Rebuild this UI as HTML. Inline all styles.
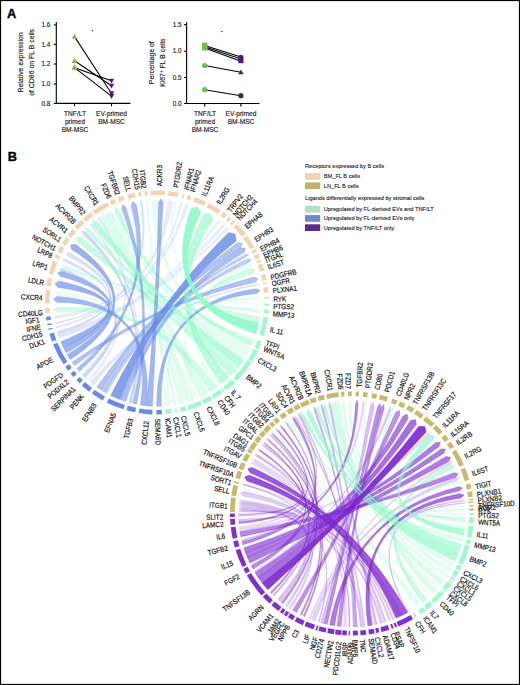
<!DOCTYPE html>
<html><head><meta charset="utf-8"><style>
html,body{margin:0;padding:0;background:#fff;}
body{width:520px;height:685px;overflow:hidden;font-family:"Liberation Sans", sans-serif;}
svg{display:block;}
</style></head><body>
<svg width="520" height="685" viewBox="0 0 520 685" font-family='"Liberation Sans", sans-serif'>
<style>.pa text{stroke:#222;stroke-width:0.15;} .lg text{stroke:#222;stroke-width:0.12;}</style>
<rect x="0" y="0" width="520" height="685" fill="#fff"/>
<text x="7.1" y="17.8" font-size="12.8" font-weight="bold" fill="#000" stroke="#000" stroke-width="0.35">A</text>
<text x="7.7" y="160.7" font-size="12.8" font-weight="bold" fill="#000" stroke="#000" stroke-width="0.35">B</text>
<g class="pa"><g stroke="#000" stroke-width="1.1" fill="none">
<path d="M56.3,22 V103.4 H130.4"/>
<path d="M53.8,24.9 H56.3"/>
<path d="M53.8,44.4 H56.3"/>
<path d="M53.8,64.0 H56.3"/>
<path d="M53.8,84.0 H56.3"/>
<path d="M53.8,103.4 H56.3"/>
<path d="M74.5,103.4 V106.2"/>
<path d="M111.5,103.4 V106.2"/>
<path d="M74.5,36.6 L111.5,93.5" stroke-width="1.05"/>
<path d="M74.5,60.8 L111.5,85.8" stroke-width="1.05"/>
<path d="M74.5,67.7 L111.5,80.8" stroke-width="1.05"/>
<path d="M74.5,67.7 L111.5,96.2" stroke-width="1.05"/>
</g>
<text x="50.3" y="27.099999999999998" font-size="6.4" text-anchor="end" fill="#222" >1.6</text>
<text x="50.3" y="46.6" font-size="6.4" text-anchor="end" fill="#222" >1.4</text>
<text x="50.3" y="66.2" font-size="6.4" text-anchor="end" fill="#222" >1.2</text>
<text x="50.3" y="86.2" font-size="6.4" text-anchor="end" fill="#222" >1.0</text>
<text x="50.3" y="105.60000000000001" font-size="6.4" text-anchor="end" fill="#222" >0.8</text>
<text transform="translate(23.2,62.4) rotate(-90)" font-size="6.9" text-anchor="middle" fill="#222">Relative expression</text>
<text transform="translate(34.4,62.4) rotate(-90)" font-size="6.9" text-anchor="middle" fill="#222">of CD86 on FL B cells</text>
<path d="M74.5,33.9 L77.2,38.760000000000005 L71.8,38.760000000000005 Z" fill="#6DBE45"/>
<path d="M74.5,58.099999999999994 L77.2,62.959999999999994 L71.8,62.959999999999994 Z" fill="#6DBE45"/>
<path d="M74.5,65.0 L77.2,69.86 L71.8,69.86 Z" fill="#6DBE45"/>
<path d="M74.5,64.2 L77.2,69.06 L71.8,69.06 Z" fill="#6DBE45"/>
<path d="M111.5,83.5 L114.2,78.64 L108.8,78.64 Z" fill="#4A1A7C"/>
<path d="M111.5,88.5 L114.2,83.64 L108.8,83.64 Z" fill="#4A1A7C"/>
<path d="M111.5,96.2 L114.2,91.34 L108.8,91.34 Z" fill="#4A1A7C"/>
<path d="M111.5,98.9 L114.2,94.04 L108.8,94.04 Z" fill="#4A1A7C"/>
<circle cx="92.4" cy="30.5" r="0.7" fill="#222"/>
<text x="75" y="116.2" font-size="6.6" text-anchor="middle" fill="#222" >TNF/LT</text>
<text x="75" y="124.3" font-size="6.6" text-anchor="middle" fill="#222" >primed</text>
<text x="75" y="132.4" font-size="6.6" text-anchor="middle" fill="#222" >BM-MSC</text>
<text x="111.5" y="116.2" font-size="6.6" text-anchor="middle" fill="#222" >EV-primed</text>
<text x="111.5" y="124.3" font-size="6.6" text-anchor="middle" fill="#222" >BM-MSC</text>
<g stroke="#000" stroke-width="1.1" fill="none">
<path d="M186.6,22.3 V103.5 H259.5"/>
<path d="M184.1,24.6 H186.6"/>
<path d="M184.1,51.2 H186.6"/>
<path d="M184.1,77.5 H186.6"/>
<path d="M184.1,103.5 H186.6"/>
<path d="M204.7,103.5 V106.4"/>
<path d="M240.9,103.5 V106.4"/>
<path d="M204.7,45.6 L240.9,56.9" stroke-width="1.05"/>
<path d="M204.7,46.8 L240.9,59.1" stroke-width="1.05"/>
<path d="M204.7,48.0 L240.9,61.3" stroke-width="1.05"/>
<path d="M204.7,65.5 L240.9,72.2" stroke-width="1.05"/>
<path d="M204.7,89.7 L240.9,95.7" stroke-width="1.05"/>
</g>
<text x="181.6" y="26.8" font-size="6.4" text-anchor="end" fill="#222" >1.5</text>
<text x="181.6" y="53.400000000000006" font-size="6.4" text-anchor="end" fill="#222" >1.0</text>
<text x="181.6" y="79.7" font-size="6.4" text-anchor="end" fill="#222" >0.5</text>
<text x="181.6" y="105.7" font-size="6.4" text-anchor="end" fill="#222" >0.0</text>
<text transform="translate(153.6,62.7) rotate(-90)" font-size="6.9" text-anchor="middle" fill="#222">Percentage of</text>
<text transform="translate(164.8,62.7) rotate(-90)" font-size="6.9" text-anchor="middle" fill="#222">Ki67<tspan font-size="4.5" dy="-2.2">+</tspan><tspan dy="2.2"> FL B cells</tspan></text>
<rect x="202.1" y="42.699999999999996" width="5.2" height="5.2" fill="#6DBE45"/>
<rect x="202.1" y="44.0" width="5.2" height="5.2" fill="#6DBE45"/>
<rect x="202.1" y="45.3" width="5.2" height="5.2" fill="#6DBE45"/>
<circle cx="204.7" cy="65.5" r="2.6" fill="#6DBE45"/>
<circle cx="204.7" cy="89.7" r="2.6" fill="#6DBE45"/>
<circle cx="240.9" cy="57.4" r="2.6" fill="#4A1A7C"/>
<rect x="238.3" y="58.0" width="5.2" height="5.2" fill="#4A1A7C"/>
<path d="M240.9,69.5 L243.6,74.36 L238.20000000000002,74.36 Z" fill="#4A1A7C"/>
<circle cx="240.9" cy="95.7" r="2.6" fill="#4A1A7C"/>
<circle cx="221.9" cy="31.5" r="0.7" fill="#222"/>
<text x="205" y="116.2" font-size="6.6" text-anchor="middle" fill="#222" >TNF/LT</text>
<text x="205" y="124.3" font-size="6.6" text-anchor="middle" fill="#222" >primed</text>
<text x="205" y="132.4" font-size="6.6" text-anchor="middle" fill="#222" >BM-MSC</text>
<text x="241" y="116.2" font-size="6.6" text-anchor="middle" fill="#222" >EV-primed</text>
<text x="241" y="124.3" font-size="6.6" text-anchor="middle" fill="#222" >BM-MSC</text></g>
<g class="lg"><text x="305" y="168.2" font-size="5.65" fill="#222">Receptors expressed by B cells</text>
<rect x="305" y="173.1" width="15.2" height="6.7" fill="#F2D5B5"/>
<text x="323.8" y="178.4" font-size="5.65" fill="#222">BM_FL B cells</text>
<rect x="305" y="182.4" width="15.2" height="6.7" fill="#BFB36C"/>
<text x="323.8" y="187.70000000000002" font-size="5.65" fill="#222">LN_FL B cells</text>
<text x="305" y="200.4" font-size="5.65" fill="#222">Ligands differentially expressed by stromal cells</text>
<rect x="305" y="205.8" width="15.2" height="6.7" fill="#B3DFC6"/>
<text x="323.8" y="211.10000000000002" font-size="5.65" fill="#222">Upregulated by FL-derived EVs and TNF/LT</text>
<rect x="305" y="215.1" width="15.2" height="6.7" fill="#6F89CD"/>
<text x="323.8" y="220.4" font-size="5.65" fill="#222">Upregulated by FL-derived EVs only</text>
<rect x="305" y="224.3" width="15.2" height="6.7" fill="#5B2B8C"/>
<text x="323.8" y="229.60000000000002" font-size="5.65" fill="#222">Upregulated by TNF/LT only</text></g>
<g><path d="M217.87,386.58 A103.8,103.8 0 0 1 216.39,387.63 Q157,302.5 250.17,265.36 L253.53,264.34 L250.38,265.89 Q157,302.5 217.87,386.58 Z" fill="#8CFAC6" fill-opacity="0.12" stroke="#8CFAC6" stroke-opacity="0.14" stroke-width="0.45"/>
<path d="M90.46,382.17 A103.8,103.8 0 0 1 87.72,379.80 Q157,302.5 59.04,280.96 L55.68,279.95 L59.15,280.45 Q157,302.5 90.46,382.17 Z" fill="#6688E6" fill-opacity="0.12" stroke="#6688E6" stroke-opacity="0.14" stroke-width="0.45"/>
<path d="M58.63,335.64 A103.8,103.8 0 0 1 58.18,334.27 Q157,302.5 216.87,222.03 L220.05,220.04 L218.96,223.62 Q157,302.5 58.63,335.64 Z" fill="#6688E6" fill-opacity="0.12" stroke="#6688E6" stroke-opacity="0.14" stroke-width="0.45"/>
<path d="M55.28,323.19 A103.8,103.8 0 0 1 55.14,322.50 Q157,302.5 180.10,204.90 L181.76,201.70 L181.75,205.30 Q157,302.5 55.28,323.19 Z" fill="#6688E6" fill-opacity="0.13" stroke="#6688E6" stroke-opacity="0.15" stroke-width="0.45"/>
<path d="M55.43,323.89 A103.8,103.8 0 0 1 55.29,323.20 Q157,302.5 184.53,206.05 L187.17,203.18 L187.78,207.04 Q157,302.5 55.43,323.89 Z" fill="#6688E6" fill-opacity="0.13" stroke="#6688E6" stroke-opacity="0.15" stroke-width="0.45"/>
<path d="M260.79,303.59 A103.8,103.8 0 0 1 260.76,305.40 Q157,302.5 172.46,203.40 L174.79,200.24 L175.91,204.00 Q157,302.5 260.79,303.59 Z" fill="#8CFAC6" fill-opacity="0.15" stroke="#8CFAC6" stroke-opacity="0.17" stroke-width="0.45"/>
<path d="M244.56,358.24 A103.8,103.8 0 0 1 243.58,359.76 Q157,302.5 125.78,207.18 L125.04,203.74 L126.45,206.97 Q157,302.5 244.56,358.24 Z" fill="#8CFAC6" fill-opacity="0.15" stroke="#8CFAC6" stroke-opacity="0.17" stroke-width="0.45"/>
<path d="M208.35,392.71 A103.8,103.8 0 0 1 207.10,393.41 Q157,302.5 114.65,211.58 L113.33,208.33 L114.96,211.44 Q157,302.5 208.35,392.71 Z" fill="#8CFAC6" fill-opacity="0.15" stroke="#8CFAC6" stroke-opacity="0.17" stroke-width="0.45"/>
<path d="M198.61,397.59 A103.8,103.8 0 0 1 193.92,399.51 Q157,302.5 251.03,267.60 L254.41,266.64 L251.21,268.09 Q157,302.5 198.61,397.59 Z" fill="#8CFAC6" fill-opacity="0.15" stroke="#8CFAC6" stroke-opacity="0.17" stroke-width="0.45"/>
<path d="M59.67,338.58 A103.8,103.8 0 0 1 59.18,337.22 Q157,302.5 225.21,228.97 L228.39,227.14 L226.74,230.41 Q157,302.5 59.67,338.58 Z" fill="#6688E6" fill-opacity="0.15" stroke="#6688E6" stroke-opacity="0.17" stroke-width="0.45"/>
<path d="M59.14,337.11 A103.8,103.8 0 0 1 58.67,335.75 Q157,302.5 221.74,225.89 L224.83,223.92 L223.33,227.26 Q157,302.5 59.14,337.11 Z" fill="#6688E6" fill-opacity="0.15" stroke="#6688E6" stroke-opacity="0.17" stroke-width="0.45"/>
<path d="M54.51,318.92 A103.8,103.8 0 0 1 54.09,316.05 Q157,302.5 167.72,202.77 L170.34,199.56 L172.06,203.34 Q157,302.5 54.51,318.92 Z" fill="#6688E6" fill-opacity="0.15" stroke="#6688E6" stroke-opacity="0.17" stroke-width="0.45"/>
<path d="M219.97,385.02 A103.8,103.8 0 0 1 218.96,385.78 Q157,302.5 56.96,295.27 L53.62,293.21 L57.27,291.78 Q157,302.5 219.97,385.02 Z" fill="#8CFAC6" fill-opacity="0.18" stroke="#8CFAC6" stroke-opacity="0.21" stroke-width="0.45"/>
<path d="M132.94,403.47 A103.8,103.8 0 0 1 131.19,403.04 Q157,302.5 91.15,226.84 L89.54,223.61 L92.48,225.70 Q157,302.5 132.94,403.47 Z" fill="#6688E6" fill-opacity="0.18" stroke="#6688E6" stroke-opacity="0.21" stroke-width="0.45"/>
<path d="M254.28,338.70 A103.8,103.8 0 0 1 253.91,339.68 Q157,302.5 62.56,268.72 L59.45,267.03 L62.92,267.74 Q157,302.5 254.28,338.70 Z" fill="#8CFAC6" fill-opacity="0.2" stroke="#8CFAC6" stroke-opacity="0.23" stroke-width="0.45"/>
<path d="M170.49,405.42 A103.8,103.8 0 0 1 167.97,405.72 Q157,302.5 249.74,264.29 L253.20,263.50 L250.16,265.34 Q157,302.5 170.49,405.42 Z" fill="#8CFAC6" fill-opacity="0.2" stroke="#8CFAC6" stroke-opacity="0.23" stroke-width="0.45"/>
<path d="M167.73,405.74 A103.8,103.8 0 0 1 165.20,405.98 Q157,302.5 145.91,202.82 L146.60,199.22 L148.00,202.60 Q157,302.5 167.73,405.74 Z" fill="#8CFAC6" fill-opacity="0.2" stroke="#8CFAC6" stroke-opacity="0.23" stroke-width="0.45"/>
<path d="M93.76,384.81 A103.8,103.8 0 0 1 90.93,382.56 Q157,302.5 255.66,284.41 L259.19,284.30 L255.83,285.41 Q157,302.5 93.76,384.81 Z" fill="#6688E6" fill-opacity="0.2" stroke="#6688E6" stroke-opacity="0.23" stroke-width="0.45"/>
<path d="M56.37,327.95 A103.8,103.8 0 0 1 56.11,326.92 Q157,302.5 140.36,203.59 L140.85,199.96 L142.43,203.26 Q157,302.5 56.37,327.95 Z" fill="#6688E6" fill-opacity="0.2" stroke="#6688E6" stroke-opacity="0.23" stroke-width="0.45"/>
<path d="M250.58,347.40 A103.8,103.8 0 0 1 248.11,352.24 Q157,302.5 152.28,202.31 L154.83,198.72 L157.53,202.20 Q157,302.5 250.58,347.40 Z" fill="#8CFAC6" fill-opacity="0.22" stroke="#8CFAC6" stroke-opacity="0.25" stroke-width="0.45"/>
<path d="M85.26,377.52 A103.8,103.8 0 0 1 84.88,377.15 Q157,302.5 99.45,220.35 L97.81,217.23 L100.17,219.85 Q157,302.5 85.26,377.52 Z" fill="#6688E6" fill-opacity="0.22" stroke="#6688E6" stroke-opacity="0.25" stroke-width="0.45"/>
<path d="M253.67,340.32 A103.8,103.8 0 0 1 252.99,342.00 Q157,302.5 257.18,297.62 L260.71,298.15 L257.24,298.98 Q157,302.5 253.67,340.32 Z" fill="#8CFAC6" fill-opacity="0.25" stroke="#8CFAC6" stroke-opacity="0.29" stroke-width="0.45"/>
<path d="M67.23,354.62 A103.8,103.8 0 0 1 66.16,352.73 Q157,302.5 65.34,261.78 L62.66,259.21 L66.36,259.56 Q157,302.5 67.23,354.62 Z" fill="#6688E6" fill-opacity="0.25" stroke="#6688E6" stroke-opacity="0.29" stroke-width="0.45"/>
<path d="M58.15,334.16 A103.8,103.8 0 0 1 57.35,331.56 Q157,302.5 68.07,256.11 L65.91,252.73 L69.92,252.73 Q157,302.5 58.15,334.16 Z" fill="#6688E6" fill-opacity="0.25" stroke="#6688E6" stroke-opacity="0.29" stroke-width="0.45"/>
<path d="M247.99,352.45 A103.8,103.8 0 0 1 245.25,357.15 Q157,302.5 110.71,213.52 L109.90,210.00 L112.27,212.73 Q157,302.5 247.99,352.45 Z" fill="#8CFAC6" fill-opacity="0.26" stroke="#8CFAC6" stroke-opacity="0.30" stroke-width="0.45"/>
<path d="M184.22,402.67 A103.8,103.8 0 0 1 179.29,403.88 Q157,302.5 101.58,218.90 L100.55,215.39 L103.34,217.76 Q157,302.5 184.22,402.67 Z" fill="#8CFAC6" fill-opacity="0.26" stroke="#8CFAC6" stroke-opacity="0.30" stroke-width="0.45"/>
<path d="M193.63,399.62 A103.8,103.8 0 0 1 186.77,401.94 Q157,302.5 103.47,217.68 L103.14,213.77 L106.46,215.86 Q157,302.5 193.63,399.62 Z" fill="#8CFAC6" fill-opacity="0.28" stroke="#8CFAC6" stroke-opacity="0.32" stroke-width="0.45"/>
<path d="M260.55,309.65 A103.8,103.8 0 0 1 260.33,312.36 Q157,302.5 63.02,267.47 L60.15,265.15 L63.83,265.35 Q157,302.5 260.55,309.65 Z" fill="#8CFAC6" fill-opacity="0.3" stroke="#8CFAC6" stroke-opacity="0.34" stroke-width="0.45"/>
<path d="M175.65,404.61 A103.8,103.8 0 0 1 174.40,404.83 Q157,302.5 100.29,219.77 L98.91,216.47 L101.45,218.99 Q157,302.5 175.65,404.61 Z" fill="#8CFAC6" fill-opacity="0.3" stroke="#8CFAC6" stroke-opacity="0.34" stroke-width="0.45"/>
<path d="M131.01,402.99 A103.8,103.8 0 0 1 128.91,402.43 Q157,302.5 83.25,234.52 L81.91,230.83 L85.67,231.99 Q157,302.5 131.01,402.99 Z" fill="#6688E6" fill-opacity="0.3" stroke="#6688E6" stroke-opacity="0.34" stroke-width="0.45"/>
<path d="M84.85,377.12 A103.8,103.8 0 0 1 82.36,374.64 Q157,302.5 61.78,270.97 L58.81,268.84 L62.46,268.99 Q157,302.5 84.85,377.12 Z" fill="#6688E6" fill-opacity="0.3" stroke="#6688E6" stroke-opacity="0.34" stroke-width="0.45"/>
<path d="M207.02,393.45 A103.8,103.8 0 0 1 200.29,396.84 Q157,302.5 106.59,215.79 L106.88,211.60 L110.58,213.59 Q157,302.5 207.02,393.45 Z" fill="#8CFAC6" fill-opacity="0.32" stroke="#8CFAC6" stroke-opacity="0.37" stroke-width="0.45"/>
<path d="M259.86,316.47 A103.8,103.8 0 0 1 258.78,322.90 Q157,302.5 251.24,268.15 L255.53,269.85 L253.10,273.78 Q157,302.5 259.86,316.47 Z" fill="#8CFAC6" fill-opacity="0.4" stroke="#8CFAC6" stroke-opacity="0.46" stroke-width="0.45"/>
<path d="M103.54,391.47 A103.8,103.8 0 0 1 101.38,390.14 Q157,302.5 245.02,254.41 L248.78,254.01 L246.33,256.89 Q157,302.5 103.54,391.47 Z" fill="#6688E6" fill-opacity="0.4" stroke="#6688E6" stroke-opacity="0.46" stroke-width="0.45"/>
<path d="M216.24,387.74 A103.8,103.8 0 0 1 209.84,391.85 Q157,302.5 57.16,312.05 L53.48,310.10 L56.83,307.64 Q157,302.5 216.24,387.74 Z" fill="#8CFAC6" fill-opacity="0.42" stroke="#8CFAC6" stroke-opacity="0.48" stroke-width="0.45"/>
<path d="M106.52,393.20 A103.8,103.8 0 0 1 103.69,391.57 Q157,302.5 247.34,258.93 L251.38,259.29 L249.02,262.59 Q157,302.5 106.52,393.20 Z" fill="#6688E6" fill-opacity="0.42" stroke="#6688E6" stroke-opacity="0.48" stroke-width="0.45"/>
<path d="M238.97,366.18 A103.8,103.8 0 0 1 235.29,370.65 Q157,302.5 85.99,231.66 L85.07,227.66 L89.02,228.75 Q157,302.5 238.97,366.18 Z" fill="#8CFAC6" fill-opacity="0.45" stroke="#8CFAC6" stroke-opacity="0.52" stroke-width="0.45"/>
<path d="M252.81,342.45 A103.8,103.8 0 0 1 251.35,345.76 Q157,302.5 115.00,211.42 L115.46,207.37 L118.74,209.79 Q157,302.5 252.81,342.45 Z" fill="#8CFAC6" fill-opacity="0.5" stroke="#8CFAC6" stroke-opacity="0.57" stroke-width="0.45"/>
<path d="M235.20,370.76 A103.8,103.8 0 0 1 231.01,375.28 Q157,302.5 77.21,241.72 L76.33,237.18 L80.96,237.09 Q157,302.5 235.20,370.76 Z" fill="#8CFAC6" fill-opacity="0.5" stroke="#8CFAC6" stroke-opacity="0.57" stroke-width="0.45"/>
<path d="M101.23,390.04 A103.8,103.8 0 0 1 96.72,387.01 Q157,302.5 237.49,242.65 L242.10,243.06 L240.90,247.53 Q157,302.5 101.23,390.04 Z" fill="#6688E6" fill-opacity="0.5" stroke="#6688E6" stroke-opacity="0.57" stroke-width="0.45"/>
<path d="M74.54,365.55 A103.8,103.8 0 0 1 72.08,362.19 Q157,302.5 254.02,277.05 L258.06,278.80 L255.22,282.16 Q157,302.5 74.54,365.55 Z" fill="#6688E6" fill-opacity="0.5" stroke="#6688E6" stroke-opacity="0.57" stroke-width="0.45"/>
<path d="M136.66,404.29 A103.8,103.8 0 0 1 133.12,403.52 Q157,302.5 121.76,208.59 L122.58,204.57 L125.73,207.20 Q157,302.5 136.66,404.29 Z" fill="#6688E6" fill-opacity="0.55" stroke="#6688E6" stroke-opacity="0.63" stroke-width="0.45"/>
<path d="M125.73,401.48 A103.8,103.8 0 0 1 120.08,399.51 Q157,302.5 241.06,247.77 L245.54,248.32 L243.98,252.55 Q157,302.5 125.73,401.48 Z" fill="#6688E6" fill-opacity="0.55" stroke="#6688E6" stroke-opacity="0.63" stroke-width="0.45"/>
<path d="M79.44,371.48 A103.8,103.8 0 0 1 76.85,368.45 Q157,302.5 131.13,205.60 L132.86,201.55 L136.23,204.37 Q157,302.5 79.44,371.48 Z" fill="#6688E6" fill-opacity="0.55" stroke="#6688E6" stroke-opacity="0.63" stroke-width="0.45"/>
<path d="M229.24,377.04 A103.8,103.8 0 0 1 221.33,383.96 Q157,302.5 204.09,213.94 L210.46,213.53 L213.09,219.35 Q157,302.5 229.24,377.04 Z" fill="#8CFAC6" fill-opacity="0.6" stroke="#8CFAC6" stroke-opacity="0.69" stroke-width="0.45"/>
<path d="M161.35,406.21 A103.8,103.8 0 0 1 156.64,406.30 Q157,302.5 256.34,288.63 L260.11,290.57 L256.88,293.32 Q157,302.5 161.35,406.21 Z" fill="#6688E6" fill-opacity="0.6" stroke="#6688E6" stroke-opacity="0.69" stroke-width="0.45"/>
<path d="M146.21,405.74 A103.8,103.8 0 0 1 140.29,404.95 Q157,302.5 56.70,302.21 L53.25,299.21 L56.88,296.44 Q157,302.5 146.21,405.74 Z" fill="#6688E6" fill-opacity="0.6" stroke="#6688E6" stroke-opacity="0.69" stroke-width="0.45"/>
<path d="M152.41,406.20 A103.8,103.8 0 0 1 146.45,405.76 Q157,302.5 158.58,202.21 L160.98,198.78 L163.12,202.39 Q157,302.5 152.41,406.20 Z" fill="#6688E6" fill-opacity="0.6" stroke="#6688E6" stroke-opacity="0.69" stroke-width="0.45"/>
<path d="M243.50,359.88 A103.8,103.8 0 0 1 239.06,366.06 Q157,302.5 92.84,225.40 L93.00,220.78 L97.53,221.73 Q157,302.5 243.50,359.88 Z" fill="#8CFAC6" fill-opacity="0.62" stroke="#8CFAC6" stroke-opacity="0.71" stroke-width="0.45"/>
<path d="M66.00,352.44 A103.8,103.8 0 0 1 63.52,347.61 Q157,302.5 60.19,276.27 L57.56,272.74 L61.70,271.24 Q157,302.5 66.00,352.44 Z" fill="#6688E6" fill-opacity="0.62" stroke="#6688E6" stroke-opacity="0.71" stroke-width="0.45"/>
<path d="M70.26,359.52 A103.8,103.8 0 0 1 67.40,354.90 Q157,302.5 71.80,249.57 L70.59,244.98 L75.29,244.33 Q157,302.5 70.26,359.52 Z" fill="#6688E6" fill-opacity="0.65" stroke="#6688E6" stroke-opacity="0.75" stroke-width="0.45"/>
<path d="M63.37,347.32 A103.8,103.8 0 0 1 60.88,341.69 Q157,302.5 57.85,287.33 L54.94,283.58 L59.00,281.13 Q157,302.5 63.37,347.32 Z" fill="#6688E6" fill-opacity="0.65" stroke="#6688E6" stroke-opacity="0.75" stroke-width="0.45"/>
<path d="M119.86,399.43 A103.8,103.8 0 0 1 110.74,395.42 Q157,302.5 228.78,232.45 L235.22,234.26 L236.15,240.89 Q157,302.5 119.86,399.43 Z" fill="#6688E6" fill-opacity="0.8" stroke="#6688E6" stroke-opacity="0.92" stroke-width="0.45"/>
<path d="M258.73,323.14 A103.8,103.8 0 0 1 256.01,333.66 Q157,302.5 191.14,208.19 L197.39,206.88 L200.81,212.27 Q157,302.5 258.73,323.14 Z" fill="#8CFAC6" fill-opacity="0.9" stroke="#8CFAC6" stroke-opacity="1.00" stroke-width="0.45"/></g>
<path d="M150.55,190.69 A112,112 0 0 1 165.01,190.79 L164.68,195.37 A107.4,107.4 0 0 0 150.82,195.28 Z" fill="#F3D4AF"/>
<path d="M168.51,191.09 A112,112 0 0 1 178.56,192.60 L177.68,197.11 A107.4,107.4 0 0 0 168.04,195.67 Z" fill="#F3D4AF"/>
<path d="M182.77,193.50 A112,112 0 0 1 184.66,193.97 L183.53,198.43 A107.4,107.4 0 0 0 181.71,197.98 Z" fill="#F3D4AF"/>
<path d="M187.68,194.78 A112,112 0 0 1 191.42,195.92 L190.01,200.30 A107.4,107.4 0 0 0 186.42,199.21 Z" fill="#F3D4AF"/>
<path d="M194.75,197.06 A112,112 0 0 1 206.27,201.92 L204.25,206.05 A107.4,107.4 0 0 0 193.20,201.39 Z" fill="#F3D4AF"/>
<path d="M208.72,203.15 A112,112 0 0 1 220.44,210.20 L217.83,213.99 A107.4,107.4 0 0 0 206.59,207.24 Z" fill="#F3D4AF"/>
<path d="M223.15,212.12 A112,112 0 0 1 226.87,214.97 L224.00,218.56 A107.4,107.4 0 0 0 220.43,215.83 Z" fill="#F3D4AF"/>
<path d="M228.99,216.70 A112,112 0 0 1 231.36,218.75 L228.31,222.19 A107.4,107.4 0 0 0 226.04,220.23 Z" fill="#F3D4AF"/>
<path d="M232.95,220.19 A112,112 0 0 1 235.08,222.21 L231.88,225.50 A107.4,107.4 0 0 0 229.83,223.57 Z" fill="#F3D4AF"/>
<path d="M236.88,224.00 A112,112 0 0 1 245.62,234.01 L241.98,236.82 A107.4,107.4 0 0 0 233.60,227.22 Z" fill="#F3D4AF"/>
<path d="M246.68,235.41 A112,112 0 0 1 254.29,247.01 L250.29,249.29 A107.4,107.4 0 0 0 243.00,238.16 Z" fill="#F3D4AF"/>
<path d="M255.24,248.71 A112,112 0 0 1 256.79,251.65 L252.69,253.74 A107.4,107.4 0 0 0 251.21,250.92 Z" fill="#F3D4AF"/>
<path d="M257.84,253.75 A112,112 0 0 1 259.79,258.02 L255.57,259.85 A107.4,107.4 0 0 0 253.69,255.76 Z" fill="#F3D4AF"/>
<path d="M260.55,259.82 A112,112 0 0 1 261.28,261.63 L257.00,263.31 A107.4,107.4 0 0 0 256.30,261.57 Z" fill="#F3D4AF"/>
<path d="M261.98,263.46 A112,112 0 0 1 264.33,270.50 L259.92,271.82 A107.4,107.4 0 0 0 257.66,265.06 Z" fill="#F3D4AF"/>
<path d="M265.28,273.89 A112,112 0 0 1 266.71,279.98 L262.21,280.90 A107.4,107.4 0 0 0 260.84,275.07 Z" fill="#F3D4AF"/>
<path d="M267.16,282.28 A112,112 0 0 1 267.37,283.44 L262.83,284.22 A107.4,107.4 0 0 0 262.64,283.11 Z" fill="#F3D4AF"/>
<path d="M267.91,286.91 A112,112 0 0 1 268.54,292.35 L263.96,292.77 A107.4,107.4 0 0 0 263.35,287.55 Z" fill="#F3D4AF"/>
<path d="M268.87,297.03 A112,112 0 0 1 268.93,298.59 L264.33,298.75 A107.4,107.4 0 0 0 264.27,297.25 Z" fill="#F3D4AF"/>
<path d="M269.00,303.48 A112,112 0 0 1 268.95,305.82 L264.35,305.69 A107.4,107.4 0 0 0 264.40,303.44 Z" fill="#A0F8D0"/>
<path d="M268.77,309.73 A112,112 0 0 1 268.45,313.62 L263.87,313.17 A107.4,107.4 0 0 0 264.18,309.43 Z" fill="#A0F8D0"/>
<path d="M268.02,317.31 A112,112 0 0 1 263.76,336.37 L259.37,334.97 A107.4,107.4 0 0 0 263.46,316.70 Z" fill="#A0F8D0"/>
<path d="M261.98,341.54 A112,112 0 0 1 261.56,342.64 L257.27,340.99 A107.4,107.4 0 0 0 257.66,339.94 Z" fill="#A0F8D0"/>
<path d="M261.49,342.82 A112,112 0 0 1 258.59,349.66 L254.42,347.72 A107.4,107.4 0 0 0 257.20,341.16 Z" fill="#A0F8D0"/>
<path d="M258.09,350.72 A112,112 0 0 1 252.08,361.69 L248.18,359.25 A107.4,107.4 0 0 0 253.94,348.74 Z" fill="#A0F8D0"/>
<path d="M251.56,362.51 A112,112 0 0 1 236.75,381.14 L233.47,377.91 A107.4,107.4 0 0 0 247.68,360.05 Z" fill="#A0F8D0"/>
<path d="M235.22,382.66 A112,112 0 0 1 226.11,390.64 L223.27,387.02 A107.4,107.4 0 0 0 232.01,379.37 Z" fill="#A0F8D0"/>
<path d="M225.03,391.47 A112,112 0 0 1 223.78,392.42 L221.03,388.72 A107.4,107.4 0 0 0 222.23,387.82 Z" fill="#A0F8D0"/>
<path d="M222.83,393.11 A112,112 0 0 1 213.84,399.00 L211.51,395.04 A107.4,107.4 0 0 0 220.13,389.39 Z" fill="#A0F8D0"/>
<path d="M212.49,399.79 A112,112 0 0 1 203.62,404.33 L201.71,400.15 A107.4,107.4 0 0 0 210.21,395.79 Z" fill="#A0F8D0"/>
<path d="M202.20,404.98 A112,112 0 0 1 188.81,409.89 L187.50,405.48 A107.4,107.4 0 0 0 200.34,400.77 Z" fill="#A0F8D0"/>
<path d="M186.55,410.53 A112,112 0 0 1 180.86,411.93 L179.88,407.43 A107.4,107.4 0 0 0 185.34,406.09 Z" fill="#A0F8D0"/>
<path d="M177.22,412.66 A112,112 0 0 1 175.68,412.93 L174.91,408.40 A107.4,107.4 0 0 0 176.39,408.14 Z" fill="#A0F8D0"/>
<path d="M171.81,413.52 A112,112 0 0 1 165.59,414.17 L165.24,409.58 A107.4,107.4 0 0 0 171.20,408.96 Z" fill="#A0F8D0"/>
<path d="M161.89,414.39 A112,112 0 0 1 156.41,414.50 L156.44,409.90 A107.4,107.4 0 0 0 161.68,409.80 Z" fill="#6889E6"/>
<path d="M152.31,414.40 A112,112 0 0 1 138.71,413.00 L139.46,408.46 A107.4,107.4 0 0 0 152.50,409.81 Z" fill="#6889E6"/>
<path d="M135.25,412.37 A112,112 0 0 1 126.50,410.27 L127.76,405.84 A107.4,107.4 0 0 0 136.14,407.85 Z" fill="#6889E6"/>
<path d="M123.51,409.37 A112,112 0 0 1 106.85,402.65 L108.91,398.53 A107.4,107.4 0 0 0 124.88,404.99 Z" fill="#6889E6"/>
<path d="M102.70,400.46 A112,112 0 0 1 91.80,393.57 L94.48,389.83 A107.4,107.4 0 0 0 104.93,396.43 Z" fill="#6889E6"/>
<path d="M89.28,391.71 A112,112 0 0 1 81.77,385.47 L84.86,382.06 A107.4,107.4 0 0 0 92.07,388.05 Z" fill="#6889E6"/>
<path d="M79.62,383.47 A112,112 0 0 1 76.43,380.30 L79.74,377.11 A107.4,107.4 0 0 0 82.80,380.15 Z" fill="#6889E6"/>
<path d="M73.38,377.01 A112,112 0 0 1 70.45,373.59 L74.01,370.67 A107.4,107.4 0 0 0 76.81,373.95 Z" fill="#6889E6"/>
<path d="M68.14,370.68 A112,112 0 0 1 65.25,366.74 L69.02,364.10 A107.4,107.4 0 0 0 71.79,367.88 Z" fill="#6889E6"/>
<path d="M63.60,364.32 A112,112 0 0 1 53.16,344.46 L57.42,342.73 A107.4,107.4 0 0 0 67.44,361.78 Z" fill="#6889E6"/>
<path d="M52.02,341.54 A112,112 0 0 1 49.45,333.75 L53.86,332.46 A107.4,107.4 0 0 0 56.34,339.94 Z" fill="#6889E6"/>
<path d="M48.42,329.97 A112,112 0 0 1 48.14,328.84 L52.61,327.75 A107.4,107.4 0 0 0 52.88,328.85 Z" fill="#6889E6"/>
<path d="M47.41,325.59 A112,112 0 0 1 47.10,324.06 L51.61,323.18 A107.4,107.4 0 0 0 51.91,324.65 Z" fill="#6889E6"/>
<path d="M46.44,320.41 A112,112 0 0 1 45.93,316.93 L50.49,316.33 A107.4,107.4 0 0 0 50.98,319.67 Z" fill="#6889E6"/>
<path d="M45.52,313.23 A112,112 0 0 1 45.14,308.17 L49.74,307.93 A107.4,107.4 0 0 0 50.09,312.79 Z" fill="#F3D4AF"/>
<path d="M45.00,303.48 A112,112 0 0 1 45.79,289.24 L50.36,289.78 A107.4,107.4 0 0 0 49.60,303.44 Z" fill="#F3D4AF"/>
<path d="M46.26,285.75 A112,112 0 0 1 47.78,277.69 L52.27,278.71 A107.4,107.4 0 0 0 50.81,286.44 Z" fill="#F3D4AF"/>
<path d="M48.82,273.51 A112,112 0 0 1 53.08,260.73 L57.35,262.44 A107.4,107.4 0 0 0 53.26,274.70 Z" fill="#F3D4AF"/>
<path d="M54.52,257.30 A112,112 0 0 1 55.91,254.28 L60.06,256.26 A107.4,107.4 0 0 0 58.73,259.16 Z" fill="#F3D4AF"/>
<path d="M57.21,251.65 A112,112 0 0 1 60.30,245.99 L64.27,248.31 A107.4,107.4 0 0 0 61.31,253.74 Z" fill="#F3D4AF"/>
<path d="M61.61,243.81 A112,112 0 0 1 66.05,237.14 L69.78,239.83 A107.4,107.4 0 0 0 65.52,246.22 Z" fill="#F3D4AF"/>
<path d="M67.44,235.25 A112,112 0 0 1 72.60,228.87 L76.07,231.90 A107.4,107.4 0 0 0 71.11,238.01 Z" fill="#F3D4AF"/>
<path d="M74.29,226.98 A112,112 0 0 1 81.48,219.79 L84.58,223.19 A107.4,107.4 0 0 0 77.69,230.08 Z" fill="#F3D4AF"/>
<path d="M83.08,218.36 A112,112 0 0 1 91.01,212.01 L93.72,215.72 A107.4,107.4 0 0 0 86.12,221.81 Z" fill="#F3D4AF"/>
<path d="M92.60,210.87 A112,112 0 0 1 107.20,202.18 L109.25,206.30 A107.4,107.4 0 0 0 95.24,214.63 Z" fill="#F3D4AF"/>
<path d="M109.67,200.99 A112,112 0 0 1 114.32,198.95 L116.07,203.20 A107.4,107.4 0 0 0 111.61,205.16 Z" fill="#F3D4AF"/>
<path d="M117.59,197.66 A112,112 0 0 1 122.95,195.80 L124.35,200.18 A107.4,107.4 0 0 0 119.21,201.97 Z" fill="#F3D4AF"/>
<path d="M127.26,194.52 A112,112 0 0 1 134.67,192.75 L135.59,197.26 A107.4,107.4 0 0 0 128.48,198.96 Z" fill="#F3D4AF"/>
<path d="M138.13,192.10 A112,112 0 0 1 141.03,191.65 L141.68,196.20 A107.4,107.4 0 0 0 138.90,196.64 Z" fill="#F3D4AF"/>
<path d="M144.32,191.22 A112,112 0 0 1 147.24,190.93 L147.64,195.51 A107.4,107.4 0 0 0 144.84,195.79 Z" fill="#F3D4AF"/>
<text transform="translate(157.81,186.20) rotate(-89.60) scale(0.86,1)" text-anchor="start" dominant-baseline="central" dy="1.5" font-size="7.4" fill="#111" stroke="#111" stroke-width="0.18">ACKR3</text>
<text transform="translate(174.19,187.48) rotate(-81.50) scale(0.86,1)" text-anchor="start" dominant-baseline="central" dy="1.5" font-size="7.4" fill="#111" stroke="#111" stroke-width="0.18">PTGDR2</text>
<text transform="translate(184.74,189.56) rotate(-76.20) scale(0.86,1)" text-anchor="start" dominant-baseline="central" dy="1.5" font-size="7.4" fill="#111" stroke="#111" stroke-width="0.18">IFNAR1</text>
<text transform="translate(190.81,191.22) rotate(-73.10) scale(0.86,1)" text-anchor="start" dominant-baseline="central" dy="1.5" font-size="7.4" fill="#111" stroke="#111" stroke-width="0.18">IFNAR2</text>
<text transform="translate(202.26,195.37) rotate(-67.10) scale(0.86,1)" text-anchor="start" dominant-baseline="central" dy="1.5" font-size="7.4" fill="#111" stroke="#111" stroke-width="0.18">IL11RA</text>
<text transform="translate(216.90,202.81) rotate(-59.00) scale(0.86,1)" text-anchor="start" dominant-baseline="central" dy="1.5" font-size="7.4" fill="#111" stroke="#111" stroke-width="0.18">IL2RG</text>
<text transform="translate(227.64,210.11) rotate(-52.60) scale(0.86,1)" text-anchor="start" dominant-baseline="central" dy="1.5" font-size="7.4" fill="#111" stroke="#111" stroke-width="0.18">TRPV2</text>
<text transform="translate(232.99,214.46) rotate(-49.20) scale(0.86,1)" text-anchor="start" dominant-baseline="central" dy="1.5" font-size="7.4" fill="#111" stroke="#111" stroke-width="0.18">NOTCH2</text>
<text transform="translate(236.98,218.07) rotate(-46.55) scale(0.86,1)" text-anchor="start" dominant-baseline="central" dy="1.5" font-size="7.4" fill="#111" stroke="#111" stroke-width="0.18">NOTCH4</text>
<text transform="translate(244.64,226.05) rotate(-41.10) scale(0.86,1)" text-anchor="start" dominant-baseline="central" dy="1.5" font-size="7.4" fill="#111" stroke="#111" stroke-width="0.18">EPHA8</text>
<text transform="translate(254.26,238.73) rotate(-33.25) scale(0.86,1)" text-anchor="start" dominant-baseline="central" dy="1.5" font-size="7.4" fill="#111" stroke="#111" stroke-width="0.18">EPHB3</text>
<text transform="translate(259.83,248.17) rotate(-27.85) scale(0.86,1)" text-anchor="start" dominant-baseline="central" dy="1.5" font-size="7.4" fill="#111" stroke="#111" stroke-width="0.18">EPHB4</text>
<text transform="translate(262.74,254.09) rotate(-24.60) scale(0.86,1)" text-anchor="start" dominant-baseline="central" dy="1.5" font-size="7.4" fill="#111" stroke="#111" stroke-width="0.18">EPHB6</text>
<text transform="translate(264.91,259.12) rotate(-21.90) scale(0.86,1)" text-anchor="start" dominant-baseline="central" dy="1.5" font-size="7.4" fill="#111" stroke="#111" stroke-width="0.18">ITGAL</text>
<text transform="translate(267.29,265.60) rotate(-18.50) scale(0.86,1)" text-anchor="start" dominant-baseline="central" dy="1.5" font-size="7.4" fill="#111" stroke="#111" stroke-width="0.18">IL6ST</text>
<text transform="translate(270.23,275.94) rotate(-13.20) scale(0.86,1)" text-anchor="start" dominant-baseline="central" dy="1.5" font-size="7.4" fill="#111" stroke="#111" stroke-width="0.18">PDGFRB</text>
<text transform="translate(271.50,282.10) rotate(-10.10) scale(0.86,1)" text-anchor="start" dominant-baseline="central" dy="1.5" font-size="7.4" fill="#111" stroke="#111" stroke-width="0.18">OGFR</text>
<text transform="translate(272.53,289.13) rotate(-6.60) scale(0.86,1)" text-anchor="start" dominant-baseline="central" dy="1.5" font-size="7.4" fill="#111" stroke="#111" stroke-width="0.18">PLXNA1</text>
<text transform="translate(273.20,297.63) rotate(-2.40) scale(0.86,1)" text-anchor="start" dominant-baseline="central" dy="1.5" font-size="7.4" fill="#111" stroke="#111" stroke-width="0.18">RYK</text>
<text transform="translate(273.28,304.73) rotate(1.10) scale(0.86,1)" text-anchor="start" dominant-baseline="central" dy="1.5" font-size="7.4" fill="#111" stroke="#111" stroke-width="0.18">PTGS2</text>
<text transform="translate(272.91,312.03) rotate(4.70) scale(0.86,1)" text-anchor="start" dominant-baseline="central" dy="1.5" font-size="7.4" fill="#111" stroke="#111" stroke-width="0.18">MMP13</text>
<text transform="translate(270.50,327.87) rotate(12.60) scale(0.86,1)" text-anchor="start" dominant-baseline="central" dy="1.5" font-size="7.4" fill="#111" stroke="#111" stroke-width="0.18">IL 11</text>
<text transform="translate(266.63,341.32) rotate(19.50) scale(0.86,1)" text-anchor="start" dominant-baseline="central" dy="1.5" font-size="7.4" fill="#111" stroke="#111" stroke-width="0.18">TFPI</text>
<text transform="translate(264.37,347.19) rotate(22.60) scale(0.86,1)" text-anchor="start" dominant-baseline="central" dy="1.5" font-size="7.4" fill="#111" stroke="#111" stroke-width="0.18">WNT5A</text>
<text transform="translate(259.01,358.35) rotate(28.70) scale(0.86,1)" text-anchor="start" dominant-baseline="central" dy="1.5" font-size="7.4" fill="#111" stroke="#111" stroke-width="0.18">CXCL3</text>
<text transform="translate(248.02,374.90) rotate(38.50) scale(0.86,1)" text-anchor="start" dominant-baseline="central" dy="1.5" font-size="7.4" fill="#111" stroke="#111" stroke-width="0.18">BMP2</text>
<text transform="translate(233.61,390.01) rotate(48.80) scale(0.86,1)" text-anchor="start" dominant-baseline="central" dy="1.5" font-size="7.4" fill="#111" stroke="#111" stroke-width="0.18">IL 7</text>
<text transform="translate(226.99,395.38) rotate(53.00) scale(0.86,1)" text-anchor="start" dominant-baseline="central" dy="1.5" font-size="7.4" fill="#111" stroke="#111" stroke-width="0.18">CFH</text>
<text transform="translate(220.77,399.76) rotate(56.75) scale(0.86,1)" text-anchor="start" dominant-baseline="central" dy="1.5" font-size="7.4" fill="#111" stroke="#111" stroke-width="0.18">CD40</text>
<text transform="translate(210.07,405.99) rotate(62.85) scale(0.86,1)" text-anchor="start" dominant-baseline="central" dy="1.5" font-size="7.4" fill="#111" stroke="#111" stroke-width="0.18">CXCL8</text>
<text transform="translate(197.06,411.68) rotate(69.85) scale(0.86,1)" text-anchor="start" dominant-baseline="central" dy="1.5" font-size="7.4" fill="#111" stroke="#111" stroke-width="0.18">CXCL6</text>
<text transform="translate(184.74,415.44) rotate(76.20) scale(0.86,1)" text-anchor="start" dominant-baseline="central" dy="1.5" font-size="7.4" fill="#111" stroke="#111" stroke-width="0.18">CXCL5</text>
<text transform="translate(177.20,417.03) rotate(80.00) scale(0.86,1)" text-anchor="start" dominant-baseline="central" dy="1.5" font-size="7.4" fill="#111" stroke="#111" stroke-width="0.18">CXCL1</text>
<text transform="translate(169.16,418.16) rotate(84.00) scale(0.86,1)" text-anchor="start" dominant-baseline="central" dy="1.5" font-size="7.4" fill="#111" stroke="#111" stroke-width="0.18">ICAM1</text>
<text transform="translate(159.23,418.78) rotate(88.90) scale(0.86,1)" text-anchor="start" dominant-baseline="central" dy="1.5" font-size="7.4" fill="#111" stroke="#111" stroke-width="0.18">SEMA6D</text>
<text transform="translate(144.78,420.77) rotate(275.90) scale(0.86,1)" text-anchor="end" dominant-baseline="central" dy="1.5" font-size="7.4" fill="#111" stroke="#111" stroke-width="0.18">CXCL12</text>
<text transform="translate(129.24,418.11) rotate(283.50) scale(0.86,1)" text-anchor="end" dominant-baseline="central" dy="1.5" font-size="7.4" fill="#111" stroke="#111" stroke-width="0.18">TGFB3</text>
<text transform="translate(112.46,412.74) rotate(292.00) scale(0.86,1)" text-anchor="end" dominant-baseline="central" dy="1.5" font-size="7.4" fill="#111" stroke="#111" stroke-width="0.18">EFNA5</text>
<text transform="translate(93.47,403.00) rotate(302.30) scale(0.86,1)" text-anchor="end" dominant-baseline="central" dy="1.5" font-size="7.4" fill="#111" stroke="#111" stroke-width="0.18">EFNB3</text>
<text transform="translate(81.05,393.98) rotate(309.70) scale(0.86,1)" text-anchor="end" dominant-baseline="central" dy="1.5" font-size="7.4" fill="#111" stroke="#111" stroke-width="0.18">PENK</text>
<text transform="translate(73.15,386.79) rotate(314.85) scale(0.86,1)" text-anchor="end" dominant-baseline="central" dy="1.5" font-size="7.4" fill="#111" stroke="#111" stroke-width="0.18">SERPINA1</text>
<text transform="translate(66.66,379.80) rotate(319.45) scale(0.86,1)" text-anchor="end" dominant-baseline="central" dy="1.5" font-size="7.4" fill="#111" stroke="#111" stroke-width="0.18">PODXL2</text>
<text transform="translate(61.11,372.81) rotate(323.75) scale(0.86,1)" text-anchor="end" dominant-baseline="central" dy="1.5" font-size="7.4" fill="#111" stroke="#111" stroke-width="0.18">PDGFD</text>
<text transform="translate(51.77,357.86) rotate(332.25) scale(0.86,1)" text-anchor="end" dominant-baseline="central" dy="1.5" font-size="7.4" fill="#111" stroke="#111" stroke-width="0.18">APOE</text>
<text transform="translate(44.11,339.83) rotate(341.70) scale(0.86,1)" text-anchor="end" dominant-baseline="central" dy="1.5" font-size="7.4" fill="#111" stroke="#111" stroke-width="0.18">DLK1</text>
<text transform="translate(41.84,332.07) rotate(345.60) scale(0.86,1)" text-anchor="end" dominant-baseline="central" dy="1.5" font-size="7.4" fill="#111" stroke="#111" stroke-width="0.18">CDH15</text>
<text transform="translate(40.32,325.39) rotate(348.90) scale(0.86,1)" text-anchor="end" dominant-baseline="central" dy="1.5" font-size="7.4" fill="#111" stroke="#111" stroke-width="0.18">IFNE</text>
<text transform="translate(39.12,318.02) rotate(352.50) scale(0.86,1)" text-anchor="end" dominant-baseline="central" dy="1.5" font-size="7.4" fill="#111" stroke="#111" stroke-width="0.18">IGF1</text>
<text transform="translate(42.71,310.89) rotate(355.80) scale(0.86,1)" text-anchor="end" dominant-baseline="central" dy="1.5" font-size="7.4" fill="#111" stroke="#111" stroke-width="0.18">CD40LG</text>
<text transform="translate(42.57,296.20) rotate(363.15) scale(0.86,1)" text-anchor="end" dominant-baseline="central" dy="1.5" font-size="7.4" fill="#111" stroke="#111" stroke-width="0.18">CXCR4</text>
<text transform="translate(44.39,281.22) rotate(370.70) scale(0.86,1)" text-anchor="end" dominant-baseline="central" dy="1.5" font-size="7.4" fill="#111" stroke="#111" stroke-width="0.18">LDLR</text>
<text transform="translate(48.29,266.23) rotate(378.45) scale(0.86,1)" text-anchor="end" dominant-baseline="central" dy="1.5" font-size="7.4" fill="#111" stroke="#111" stroke-width="0.18">LRP1</text>
<text transform="translate(52.84,254.70) rotate(384.65) scale(0.86,1)" text-anchor="end" dominant-baseline="central" dy="1.5" font-size="7.4" fill="#111" stroke="#111" stroke-width="0.18">LRP8</text>
<text transform="translate(56.43,247.55) rotate(388.65) scale(0.86,1)" text-anchor="end" dominant-baseline="central" dy="1.5" font-size="7.4" fill="#111" stroke="#111" stroke-width="0.18">NOTCH1</text>
<text transform="translate(61.60,239.00) rotate(393.65) scale(0.86,1)" text-anchor="end" dominant-baseline="central" dy="1.5" font-size="7.4" fill="#111" stroke="#111" stroke-width="0.18">SORL1</text>
<text transform="translate(67.94,230.38) rotate(399.00) scale(0.86,1)" text-anchor="end" dominant-baseline="central" dy="1.5" font-size="7.4" fill="#111" stroke="#111" stroke-width="0.18">ACVR1</text>
<text transform="translate(75.97,221.47) rotate(405.00) scale(0.86,1)" text-anchor="end" dominant-baseline="central" dy="1.5" font-size="7.4" fill="#111" stroke="#111" stroke-width="0.18">ACVR2B</text>
<text transform="translate(85.35,213.06) rotate(411.30) scale(0.86,1)" text-anchor="end" dominant-baseline="central" dy="1.5" font-size="7.4" fill="#111" stroke="#111" stroke-width="0.18">BMPR2</text>
<text transform="translate(98.41,204.01) rotate(419.25) scale(0.86,1)" text-anchor="end" dominant-baseline="central" dy="1.5" font-size="7.4" fill="#111" stroke="#111" stroke-width="0.18">CXCR1</text>
<text transform="translate(110.94,197.57) rotate(426.30) scale(0.86,1)" text-anchor="end" dominant-baseline="central" dy="1.5" font-size="7.4" fill="#111" stroke="#111" stroke-width="0.18">FZD6</text>
<text transform="translate(119.41,194.24) rotate(430.85) scale(0.86,1)" text-anchor="end" dominant-baseline="central" dy="1.5" font-size="7.4" fill="#111" stroke="#111" stroke-width="0.18">TGFBR2</text>
<text transform="translate(130.34,191.04) rotate(436.55) scale(0.86,1)" text-anchor="end" dominant-baseline="central" dy="1.5" font-size="7.4" fill="#111" stroke="#111" stroke-width="0.18">SELL</text>
<text transform="translate(139.17,189.30) rotate(441.05) scale(0.86,1)" text-anchor="end" dominant-baseline="central" dy="1.5" font-size="7.4" fill="#111" stroke="#111" stroke-width="0.18">CDH15</text>
<text transform="translate(145.52,188.48) rotate(444.25) scale(0.86,1)" text-anchor="end" dominant-baseline="central" dy="1.5" font-size="7.4" fill="#111" stroke="#111" stroke-width="0.18">ITGB2</text>
<g><path d="M431.36,594.64 A113.5,113.5 0 0 1 429.94,596.01 Q352,513.5 242.91,500.17 L239.40,499.24 L243.03,499.22 Q352,513.5 431.36,594.64 Z" fill="#8CFAC6" fill-opacity="0.16" stroke="#8CFAC6" stroke-opacity="0.18" stroke-width="0.45"/>
<path d="M412.31,609.65 A113.5,113.5 0 0 1 410.97,610.48 Q352,513.5 244.53,490.53 L241.22,488.81 L244.95,488.65 Q352,513.5 412.31,609.65 Z" fill="#8CFAC6" fill-opacity="0.16" stroke="#8CFAC6" stroke-opacity="0.18" stroke-width="0.45"/>
<path d="M384.33,622.30 A113.5,113.5 0 0 1 382.81,622.74 Q352,513.5 255.60,460.72 L252.73,458.47 L256.16,459.72 Q352,513.5 384.33,622.30 Z" fill="#7A24CE" fill-opacity="0.16" stroke="#7A24CE" stroke-opacity="0.18" stroke-width="0.45"/>
<path d="M363.17,626.45 A113.5,113.5 0 0 1 361.99,626.56 Q352,513.5 254.78,462.24 L251.88,460.04 L255.33,461.23 Q352,513.5 363.17,626.45 Z" fill="#7A24CE" fill-opacity="0.16" stroke="#7A24CE" stroke-opacity="0.18" stroke-width="0.45"/>
<path d="M346.36,626.86 A113.5,113.5 0 0 1 343.39,626.67 Q352,513.5 253.48,464.81 L250.78,462.15 L254.52,462.75 Q352,513.5 346.36,626.86 Z" fill="#7A24CE" fill-opacity="0.16" stroke="#7A24CE" stroke-opacity="0.18" stroke-width="0.45"/>
<path d="M310.59,619.17 A113.5,113.5 0 0 1 308.75,618.44 Q352,513.5 449.17,462.16 L452.90,461.53 L450.22,464.21 Q352,513.5 310.59,619.17 Z" fill="#7A24CE" fill-opacity="0.16" stroke="#7A24CE" stroke-opacity="0.18" stroke-width="0.45"/>
<path d="M286.31,606.06 A113.5,113.5 0 0 1 285.18,605.25 Q352,513.5 242.26,507.56 L238.69,506.87 L242.32,506.60 Q352,513.5 286.31,606.06 Z" fill="#7A24CE" fill-opacity="0.16" stroke="#7A24CE" stroke-opacity="0.18" stroke-width="0.45"/>
<path d="M239.93,531.45 A113.5,113.5 0 0 1 239.58,529.10 Q352,513.5 427.70,433.83 L431.03,432.04 L429.35,435.43 Q352,513.5 239.93,531.45 Z" fill="#7A24CE" fill-opacity="0.16" stroke="#7A24CE" stroke-opacity="0.18" stroke-width="0.45"/>
<path d="M239.52,528.71 A113.5,113.5 0 0 1 239.28,526.74 Q352,513.5 362.34,404.09 L363.67,400.60 L364.25,404.28 Q352,513.5 239.52,528.71 Z" fill="#7A24CE" fill-opacity="0.16" stroke="#7A24CE" stroke-opacity="0.18" stroke-width="0.45"/>
<path d="M238.54,516.41 A113.5,113.5 0 0 1 238.52,515.61 Q352,513.5 268.43,442.13 L265.89,439.56 L268.81,441.69 Q352,513.5 238.54,516.41 Z" fill="#7A24CE" fill-opacity="0.16" stroke="#7A24CE" stroke-opacity="0.18" stroke-width="0.45"/>
<path d="M465.50,513.30 A113.5,113.5 0 0 1 465.49,514.69 Q352,513.5 364.44,404.31 L365.64,400.82 L365.96,404.49 Q352,513.5 465.50,513.30 Z" fill="#8CFAC6" fill-opacity="0.2" stroke="#8CFAC6" stroke-opacity="0.23" stroke-width="0.45"/>
<path d="M439.14,586.23 A113.5,113.5 0 0 1 438.50,586.99 Q352,513.5 288.26,423.97 L286.57,420.75 L289.04,423.42 Q352,513.5 439.14,586.23 Z" fill="#8CFAC6" fill-opacity="0.2" stroke="#8CFAC6" stroke-opacity="0.23" stroke-width="0.45"/>
<path d="M396.17,618.05 A113.5,113.5 0 0 1 395.25,618.44 Q352,513.5 242.77,501.38 L239.25,500.49 L242.88,500.42 Q352,513.5 396.17,618.05 Z" fill="#7A24CE" fill-opacity="0.2" stroke="#7A24CE" stroke-opacity="0.23" stroke-width="0.45"/>
<path d="M315.24,620.88 A113.5,113.5 0 0 1 311.51,619.53 Q352,513.5 455.91,477.72 L459.79,477.96 L456.81,480.45 Q352,513.5 315.24,620.88 Z" fill="#7A24CE" fill-opacity="0.2" stroke="#7A24CE" stroke-opacity="0.23" stroke-width="0.45"/>
<path d="M290.85,609.12 A113.5,113.5 0 0 1 288.86,607.82 Q352,513.5 242.33,506.34 L238.78,505.52 L242.41,505.20 Q352,513.5 290.85,609.12 Z" fill="#7A24CE" fill-opacity="0.2" stroke="#7A24CE" stroke-opacity="0.23" stroke-width="0.45"/>
<path d="M465.36,519.08 A113.5,113.5 0 0 1 465.27,520.67 Q352,513.5 348.64,403.65 L350.02,400.02 L351.52,403.60 Q352,513.5 465.36,519.08 Z" fill="#8CFAC6" fill-opacity="0.24" stroke="#8CFAC6" stroke-opacity="0.28" stroke-width="0.45"/>
<path d="M465.40,518.21 A113.5,113.5 0 0 1 465.37,519.00 Q352,513.5 461.64,505.93 L465.26,506.18 L461.70,506.89 Q352,513.5 465.40,518.21 Z" fill="#8CFAC6" fill-opacity="0.24" stroke="#8CFAC6" stroke-opacity="0.28" stroke-width="0.45"/>
<path d="M465.44,517.14 A113.5,113.5 0 0 1 465.41,518.13 Q352,513.5 461.81,509.09 L465.44,509.74 L461.86,510.62 Q352,513.5 465.44,517.14 Z" fill="#8CFAC6" fill-opacity="0.24" stroke="#8CFAC6" stroke-opacity="0.28" stroke-width="0.45"/>
<path d="M464.77,526.35 A113.5,113.5 0 0 1 464.53,528.31 Q352,513.5 456.96,480.91 L460.68,480.79 L457.51,482.75 Q352,513.5 464.77,526.35 Z" fill="#8CFAC6" fill-opacity="0.24" stroke="#8CFAC6" stroke-opacity="0.28" stroke-width="0.45"/>
<path d="M447.72,574.48 A113.5,113.5 0 0 1 446.86,575.81 Q352,513.5 334.67,404.97 L334.59,401.34 L335.62,404.83 Q352,513.5 447.72,574.48 Z" fill="#8CFAC6" fill-opacity="0.24" stroke="#8CFAC6" stroke-opacity="0.28" stroke-width="0.45"/>
<path d="M446.04,577.05 A113.5,113.5 0 0 1 445.37,578.03 Q352,513.5 333.62,405.15 L333.50,401.52 L334.56,404.99 Q352,513.5 446.04,577.05 Z" fill="#8CFAC6" fill-opacity="0.24" stroke="#8CFAC6" stroke-opacity="0.28" stroke-width="0.45"/>
<path d="M418.29,605.63 A113.5,113.5 0 0 1 416.34,607.00 Q352,513.5 270.33,439.96 L267.99,437.19 L270.97,439.25 Q352,513.5 418.29,605.63 Z" fill="#8CFAC6" fill-opacity="0.24" stroke="#8CFAC6" stroke-opacity="0.28" stroke-width="0.45"/>
<path d="M420.41,604.07 A113.5,113.5 0 0 1 418.50,605.48 Q352,513.5 275.27,434.82 L273.18,431.83 L276.10,434.02 Q352,513.5 420.41,604.07 Z" fill="#8CFAC6" fill-opacity="0.24" stroke="#8CFAC6" stroke-opacity="0.28" stroke-width="0.45"/>
<path d="M408.58,611.89 A113.5,113.5 0 0 1 407.72,612.38 Q352,513.5 461.37,502.68 L465.01,502.92 L461.47,503.83 Q352,513.5 408.58,611.89 Z" fill="#7A24CE" fill-opacity="0.24" stroke="#7A24CE" stroke-opacity="0.28" stroke-width="0.45"/>
<path d="M393.78,619.03 A113.5,113.5 0 0 1 392.30,619.60 Q352,513.5 245.83,485.12 L242.45,483.81 L246.03,484.38 Q352,513.5 393.78,619.03 Z" fill="#7A24CE" fill-opacity="0.24" stroke="#7A24CE" stroke-opacity="0.28" stroke-width="0.45"/>
<path d="M390.63,620.22 A113.5,113.5 0 0 1 389.14,620.75 Q352,513.5 243.46,496.24 L240.32,493.24 L244.32,491.53 Q352,513.5 390.63,620.22 Z" fill="#7A24CE" fill-opacity="0.24" stroke="#7A24CE" stroke-opacity="0.28" stroke-width="0.45"/>
<path d="M382.09,622.94 A113.5,113.5 0 0 1 380.18,623.45 Q352,513.5 242.59,503.16 L239.08,502.03 L242.74,501.63 Q352,513.5 382.09,622.94 Z" fill="#7A24CE" fill-opacity="0.24" stroke="#7A24CE" stroke-opacity="0.28" stroke-width="0.45"/>
<path d="M372.94,625.05 A113.5,113.5 0 0 1 371.97,625.23 Q352,513.5 461.11,500.31 L464.74,500.36 L461.21,501.24 Q352,513.5 372.94,625.05 Z" fill="#7A24CE" fill-opacity="0.24" stroke="#7A24CE" stroke-opacity="0.28" stroke-width="0.45"/>
<path d="M361.74,626.58 A113.5,113.5 0 0 1 360.16,626.71 Q352,513.5 242.43,504.94 L238.91,503.87 L242.56,503.41 Q352,513.5 361.74,626.58 Z" fill="#7A24CE" fill-opacity="0.24" stroke="#7A24CE" stroke-opacity="0.28" stroke-width="0.45"/>
<path d="M365.00,626.25 A113.5,113.5 0 0 1 363.42,626.42 Q352,513.5 296.00,418.94 L294.85,415.44 L297.33,418.16 Q352,513.5 365.00,626.25 Z" fill="#7A24CE" fill-opacity="0.24" stroke="#7A24CE" stroke-opacity="0.28" stroke-width="0.45"/>
<path d="M354.08,626.98 A113.5,113.5 0 0 1 352.89,627.00 Q352,513.5 300.24,416.55 L299.15,413.05 L301.42,415.93 Q352,513.5 354.08,626.98 Z" fill="#7A24CE" fill-opacity="0.24" stroke="#7A24CE" stroke-opacity="0.28" stroke-width="0.45"/>
<path d="M319.38,622.21 A113.5,113.5 0 0 1 318.25,621.87 Q352,513.5 245.66,485.74 L242.26,484.54 L245.81,485.18 Q352,513.5 319.38,622.21 Z" fill="#7A24CE" fill-opacity="0.24" stroke="#7A24CE" stroke-opacity="0.28" stroke-width="0.45"/>
<path d="M287.33,606.78 A113.5,113.5 0 0 1 286.52,606.21 Q352,513.5 273.16,436.94 L270.85,434.14 L273.69,436.39 Q352,513.5 287.33,606.78 Z" fill="#7A24CE" fill-opacity="0.24" stroke="#7A24CE" stroke-opacity="0.28" stroke-width="0.45"/>
<path d="M280.96,602.02 A113.5,113.5 0 0 1 280.19,601.39 Q352,513.5 272.25,437.88 L269.92,435.11 L272.78,437.32 Q352,513.5 280.96,602.02 Z" fill="#7A24CE" fill-opacity="0.24" stroke="#7A24CE" stroke-opacity="0.28" stroke-width="0.45"/>
<path d="M255.05,572.52 A113.5,113.5 0 0 1 254.28,571.23 Q352,513.5 388.63,409.88 L390.76,406.82 L390.43,410.54 Q352,513.5 255.05,572.52 Z" fill="#7A24CE" fill-opacity="0.24" stroke="#7A24CE" stroke-opacity="0.28" stroke-width="0.45"/>
<path d="M241.97,541.34 A113.5,113.5 0 0 1 241.59,539.80 Q352,513.5 299.22,417.10 L297.93,413.71 L300.07,416.64 Q352,513.5 241.97,541.34 Z" fill="#7A24CE" fill-opacity="0.24" stroke="#7A24CE" stroke-opacity="0.28" stroke-width="0.45"/>
<path d="M238.76,521.22 A113.5,113.5 0 0 1 238.65,519.24 Q352,513.5 242.11,511.90 L238.53,511.06 L242.14,510.37 Q352,513.5 238.76,521.22 Z" fill="#7A24CE" fill-opacity="0.24" stroke="#7A24CE" stroke-opacity="0.28" stroke-width="0.45"/>
<path d="M465.27,520.75 A113.5,113.5 0 0 1 465.16,522.33 Q352,513.5 342.33,404.03 L343.19,400.34 L344.62,403.85 Q352,513.5 465.27,520.75 Z" fill="#8CFAC6" fill-opacity="0.28" stroke="#8CFAC6" stroke-opacity="0.32" stroke-width="0.45"/>
<path d="M462.66,538.74 A113.5,113.5 0 0 1 461.96,541.63 Q352,513.5 289.40,423.17 L288.00,419.77 L290.66,422.31 Q352,513.5 462.66,538.74 Z" fill="#8CFAC6" fill-opacity="0.28" stroke="#8CFAC6" stroke-opacity="0.32" stroke-width="0.45"/>
<path d="M453.84,563.61 A113.5,113.5 0 0 1 452.49,566.26 Q352,513.5 337.74,404.53 L338.25,400.84 L339.64,404.30 Q352,513.5 453.84,563.61 Z" fill="#8CFAC6" fill-opacity="0.28" stroke="#8CFAC6" stroke-opacity="0.32" stroke-width="0.45"/>
<path d="M450.93,569.13 A113.5,113.5 0 0 1 449.44,571.70 Q352,513.5 335.73,404.81 L336.18,401.11 L337.63,404.54 Q352,513.5 450.93,569.13 Z" fill="#8CFAC6" fill-opacity="0.28" stroke="#8CFAC6" stroke-opacity="0.32" stroke-width="0.45"/>
<path d="M385.99,621.79 A113.5,113.5 0 0 1 385.04,622.08 Q352,513.5 258.33,456.02 L255.47,453.80 L258.73,455.37 Q352,513.5 385.99,621.79 Z" fill="#7A24CE" fill-opacity="0.28" stroke="#7A24CE" stroke-opacity="0.32" stroke-width="0.45"/>
<path d="M377.15,624.18 A113.5,113.5 0 0 1 374.82,624.68 Q352,513.5 328.88,406.06 L329.09,402.34 L330.76,405.67 Q352,513.5 377.15,624.18 Z" fill="#7A24CE" fill-opacity="0.28" stroke="#7A24CE" stroke-opacity="0.32" stroke-width="0.45"/>
<path d="M323.97,623.48 A113.5,113.5 0 0 1 320.91,622.66 Q352,513.5 370.52,405.17 L373.07,401.97 L374.29,405.88 Q352,513.5 323.97,623.48 Z" fill="#7A24CE" fill-opacity="0.28" stroke="#7A24CE" stroke-opacity="0.32" stroke-width="0.45"/>
<path d="M279.61,600.92 A113.5,113.5 0 0 1 277.65,599.26 Q352,513.5 242.15,510.11 L238.60,508.81 L242.25,507.81 Q352,513.5 279.61,600.92 Z" fill="#7A24CE" fill-opacity="0.28" stroke="#7A24CE" stroke-opacity="0.32" stroke-width="0.45"/>
<path d="M443.65,580.45 A113.5,113.5 0 0 1 440.64,584.39 Q352,513.5 330.87,405.65 L331.54,401.86 L333.51,405.17 Q352,513.5 443.65,580.45 Z" fill="#8CFAC6" fill-opacity="0.32" stroke="#8CFAC6" stroke-opacity="0.37" stroke-width="0.45"/>
<path d="M436.13,589.69 A113.5,113.5 0 0 1 432.72,593.29 Q352,513.5 390.55,410.58 L393.01,407.67 L392.87,411.48 Q352,513.5 436.13,589.69 Z" fill="#8CFAC6" fill-opacity="0.32" stroke="#8CFAC6" stroke-opacity="0.37" stroke-width="0.45"/>
<path d="M355.76,626.94 A113.5,113.5 0 0 1 354.18,626.98 Q352,513.5 314.05,410.36 L313.74,406.64 L315.86,409.71 Q352,513.5 355.76,626.94 Z" fill="#7A24CE" fill-opacity="0.32" stroke="#7A24CE" stroke-opacity="0.37" stroke-width="0.45"/>
<path d="M357.45,626.87 A113.5,113.5 0 0 1 355.86,626.93 Q352,513.5 321.40,407.95 L321.35,404.22 L323.25,407.43 Q352,513.5 357.45,626.87 Z" fill="#7A24CE" fill-opacity="0.32" stroke="#7A24CE" stroke-opacity="0.37" stroke-width="0.45"/>
<path d="M349.92,626.98 A113.5,113.5 0 0 1 348.93,626.96 Q352,513.5 257.67,457.12 L254.78,454.93 L258.06,456.46 Q352,513.5 349.92,626.98 Z" fill="#7A24CE" fill-opacity="0.32" stroke="#7A24CE" stroke-opacity="0.37" stroke-width="0.45"/>
<path d="M274.02,595.97 A113.5,113.5 0 0 1 272.87,594.87 Q352,513.5 286.98,424.90 L285.33,421.65 L287.91,424.22 Q352,513.5 274.02,595.97 Z" fill="#7A24CE" fill-opacity="0.32" stroke="#7A24CE" stroke-opacity="0.37" stroke-width="0.45"/>
<path d="M238.51,515.15 A113.5,113.5 0 0 1 238.50,513.96 Q352,513.5 264.58,446.90 L262.01,444.33 L265.16,446.14 Q352,513.5 238.51,515.15 Z" fill="#7A24CE" fill-opacity="0.32" stroke="#7A24CE" stroke-opacity="0.37" stroke-width="0.45"/>
<path d="M304.63,616.64 A113.5,113.5 0 0 1 303.20,615.97 Q352,513.5 274.07,436.01 L271.94,433.05 L274.89,435.19 Q352,513.5 304.63,616.64 Z" fill="#7A24CE" fill-opacity="0.45" stroke="#7A24CE" stroke-opacity="0.52" stroke-width="0.45"/>
<path d="M301.65,615.22 A113.5,113.5 0 0 1 300.24,614.51 Q352,513.5 269.18,441.25 L266.86,438.44 L269.94,440.39 Q352,513.5 301.65,615.22 Z" fill="#7A24CE" fill-opacity="0.45" stroke="#7A24CE" stroke-opacity="0.52" stroke-width="0.45"/>
<path d="M251.66,566.55 A113.5,113.5 0 0 1 251.02,565.32 Q352,513.5 265.87,445.24 L263.42,442.53 L266.59,444.34 Q352,513.5 251.66,566.55 Z" fill="#7A24CE" fill-opacity="0.45" stroke="#7A24CE" stroke-opacity="0.52" stroke-width="0.45"/>
<path d="M426.46,599.16 A113.5,113.5 0 0 1 422.66,602.33 Q352,513.5 450.50,464.76 L454.80,465.40 L452.53,469.11 Q352,513.5 426.46,599.16 Z" fill="#8CFAC6" fill-opacity="0.5" stroke="#8CFAC6" stroke-opacity="0.57" stroke-width="0.45"/>
<path d="M341.02,626.47 A113.5,113.5 0 0 1 337.09,626.02 Q352,513.5 381.06,407.51 L383.63,404.50 L384.19,408.42 Q352,513.5 341.02,626.47 Z" fill="#7A24CE" fill-opacity="0.5" stroke="#7A24CE" stroke-opacity="0.57" stroke-width="0.45"/>
<path d="M327.24,624.27 A113.5,113.5 0 0 1 324.16,623.53 Q352,513.5 377.59,406.62 L380.07,403.52 L380.75,407.43 Q352,513.5 327.24,624.27 Z" fill="#7A24CE" fill-opacity="0.5" stroke="#7A24CE" stroke-opacity="0.57" stroke-width="0.45"/>
<path d="M296.54,612.53 A113.5,113.5 0 0 1 292.78,610.33 Q352,513.5 395.56,412.60 L399.25,410.30 L399.92,414.60 Q352,513.5 296.54,612.53 Z" fill="#7A24CE" fill-opacity="0.5" stroke="#7A24CE" stroke-opacity="0.57" stroke-width="0.45"/>
<path d="M283.10,603.70 A113.5,113.5 0 0 1 281.54,602.48 Q352,513.5 282.10,428.70 L280.42,425.42 L283.29,427.73 Q352,513.5 283.10,603.70 Z" fill="#7A24CE" fill-opacity="0.5" stroke="#7A24CE" stroke-opacity="0.57" stroke-width="0.45"/>
<path d="M271.60,593.62 A113.5,113.5 0 0 1 270.22,592.20 Q352,513.5 260.84,452.12 L258.29,449.46 L261.70,450.86 Q352,513.5 271.60,593.62 Z" fill="#7A24CE" fill-opacity="0.5" stroke="#7A24CE" stroke-opacity="0.57" stroke-width="0.45"/>
<path d="M253.05,569.10 A113.5,113.5 0 0 1 251.82,566.84 Q352,513.5 293.49,420.47 L292.58,416.79 L295.45,419.26 Q352,513.5 253.05,569.10 Z" fill="#7A24CE" fill-opacity="0.5" stroke="#7A24CE" stroke-opacity="0.57" stroke-width="0.45"/>
<path d="M238.95,523.59 A113.5,113.5 0 0 1 238.80,521.81 Q352,513.5 278.25,432.02 L276.35,428.89 L279.25,431.13 Q352,513.5 238.95,523.59 Z" fill="#7A24CE" fill-opacity="0.5" stroke="#7A24CE" stroke-opacity="0.57" stroke-width="0.45"/>
<path d="M461.28,544.18 A113.5,113.5 0 0 1 460.26,547.59 Q352,513.5 323.68,407.31 L324.00,403.51 L326.10,406.70 Q352,513.5 461.28,544.18 Z" fill="#8CFAC6" fill-opacity="0.55" stroke="#8CFAC6" stroke-opacity="0.63" stroke-width="0.45"/>
<path d="M242.90,544.78 A113.5,113.5 0 0 1 242.07,541.73 Q352,513.5 355.64,403.66 L357.05,400.11 L358.13,403.77 Q352,513.5 242.90,544.78 Z" fill="#7A24CE" fill-opacity="0.55" stroke="#7A24CE" stroke-opacity="0.63" stroke-width="0.45"/>
<path d="M240.90,536.71 A113.5,113.5 0 0 1 239.99,531.84 Q352,513.5 454.08,472.78 L458.31,473.75 L455.76,477.27 Q352,513.5 240.90,536.71 Z" fill="#7A24CE" fill-opacity="0.55" stroke="#7A24CE" stroke-opacity="0.63" stroke-width="0.45"/>
<path d="M334.54,625.65 A113.5,113.5 0 0 1 329.66,624.78 Q352,513.5 458.59,486.73 L462.59,487.97 L459.54,490.84 Q352,513.5 334.54,625.65 Z" fill="#7A24CE" fill-opacity="0.6" stroke="#7A24CE" stroke-opacity="0.69" stroke-width="0.45"/>
<path d="M258.20,577.40 A113.5,113.5 0 0 1 255.13,572.64 Q352,513.5 402.92,416.11 L407.20,414.33 L407.94,418.90 Q352,513.5 258.20,577.40 Z" fill="#7A24CE" fill-opacity="0.6" stroke="#7A24CE" stroke-opacity="0.69" stroke-width="0.45"/>
<path d="M245.43,552.55 A113.5,113.5 0 0 1 243.83,547.87 Q352,513.5 435.94,442.56 L440.33,442.23 L439.07,446.45 Q352,513.5 245.43,552.55 Z" fill="#7A24CE" fill-opacity="0.6" stroke="#7A24CE" stroke-opacity="0.69" stroke-width="0.45"/>
<path d="M247.33,557.39 A113.5,113.5 0 0 1 245.52,552.78 Q352,513.5 441.02,449.06 L445.43,449.05 L443.86,453.16 Q352,513.5 247.33,557.39 Z" fill="#7A24CE" fill-opacity="0.6" stroke="#7A24CE" stroke-opacity="0.69" stroke-width="0.45"/>
<path d="M249.88,563.03 A113.5,113.5 0 0 1 247.43,557.62 Q352,513.5 446.03,456.61 L450.61,457.31 L448.88,461.61 Q352,513.5 249.88,563.03 Z" fill="#7A24CE" fill-opacity="0.6" stroke="#7A24CE" stroke-opacity="0.69" stroke-width="0.45"/>
<path d="M460.09,548.12 A113.5,113.5 0 0 1 458.95,551.50 Q352,513.5 316.22,409.59 L316.27,405.77 L318.59,408.80 Q352,513.5 460.09,548.12 Z" fill="#8CFAC6" fill-opacity="0.62" stroke="#8CFAC6" stroke-opacity="0.71" stroke-width="0.45"/>
<path d="M371.84,625.25 A113.5,113.5 0 0 1 367.93,625.88 Q352,513.5 460.09,493.66 L464.02,495.26 L460.80,498.01 Q352,513.5 371.84,625.25 Z" fill="#7A24CE" fill-opacity="0.65" stroke="#7A24CE" stroke-opacity="0.75" stroke-width="0.45"/>
<path d="M262.28,583.01 A113.5,113.5 0 0 1 258.28,577.52 Q352,513.5 410.56,420.50 L415.47,419.40 L416.29,424.36 Q352,513.5 262.28,583.01 Z" fill="#7A24CE" fill-opacity="0.65" stroke="#7A24CE" stroke-opacity="0.75" stroke-width="0.45"/>
<path d="M456.54,557.70 A113.5,113.5 0 0 1 455.10,560.96 Q352,513.5 301.59,415.84 L301.09,412.06 L303.82,414.72 Q352,513.5 456.54,557.70 Z" fill="#8CFAC6" fill-opacity="0.66" stroke="#8CFAC6" stroke-opacity="0.76" stroke-width="0.45"/>
<path d="M458.76,552.02 A113.5,113.5 0 0 1 456.75,557.19 Q352,513.5 306.77,413.34 L307.29,409.18 L310.65,411.67 Q352,513.5 458.76,552.02 Z" fill="#8CFAC6" fill-opacity="0.69" stroke="#8CFAC6" stroke-opacity="0.79" stroke-width="0.45"/>
<path d="M464.40,529.30 A113.5,113.5 0 0 1 463.41,535.16 Q352,513.5 429.53,435.61 L434.15,435.18 L433.50,439.77 Q352,513.5 464.40,529.30 Z" fill="#8CFAC6" fill-opacity="0.7" stroke="#8CFAC6" stroke-opacity="0.80" stroke-width="0.45"/>
<path d="M407.54,612.48 A113.5,113.5 0 0 1 402.29,615.25 Q352,513.5 249.92,472.78 L247.72,468.70 L252.20,467.49 Q352,513.5 407.54,612.48 Z" fill="#7A24CE" fill-opacity="0.75" stroke="#7A24CE" stroke-opacity="0.86" stroke-width="0.45"/>
<path d="M402.11,615.34 A113.5,113.5 0 0 1 396.35,617.98 Q352,513.5 247.01,481.00 L244.56,476.92 L248.99,475.19 Q352,513.5 402.11,615.34 Z" fill="#7A24CE" fill-opacity="0.8" stroke="#7A24CE" stroke-opacity="0.92" stroke-width="0.45"/>
<path d="M267.83,589.64 A113.5,113.5 0 0 1 262.36,583.12 Q352,513.5 418.90,426.31 L424.80,426.43 L425.96,432.21 Q352,513.5 267.83,589.64 Z" fill="#7A24CE" fill-opacity="0.9" stroke="#7A24CE" stroke-opacity="1.00" stroke-width="0.45"/></g>
<path d="M355.83,391.56 A122,122 0 0 1 359.02,391.70 L358.75,396.49 A117.2,117.2 0 0 0 355.68,396.36 Z" fill="#C9B96F"/>
<path d="M363.27,392.02 A122,122 0 0 1 367.71,392.52 L367.09,397.28 A117.2,117.2 0 0 0 362.83,396.80 Z" fill="#C9B96F"/>
<path d="M372.14,393.17 A122,122 0 0 1 377.16,394.12 L376.17,398.82 A117.2,117.2 0 0 0 371.34,397.91 Z" fill="#C9B96F"/>
<path d="M380.07,394.77 A122,122 0 0 1 388.08,396.96 L386.66,401.54 A117.2,117.2 0 0 0 378.96,399.44 Z" fill="#C9B96F"/>
<path d="M392.52,398.43 A122,122 0 0 1 397.50,400.30 L395.71,404.76 A117.2,117.2 0 0 0 390.93,402.95 Z" fill="#C9B96F"/>
<path d="M400.06,401.37 A122,122 0 0 1 405.48,403.85 L403.38,408.16 A117.2,117.2 0 0 0 398.17,405.78 Z" fill="#C9B96F"/>
<path d="M408.33,405.28 A122,122 0 0 1 414.29,408.60 L411.84,412.73 A117.2,117.2 0 0 0 406.12,409.54 Z" fill="#C9B96F"/>
<path d="M416.65,410.04 A122,122 0 0 1 423.71,414.80 L420.89,418.68 A117.2,117.2 0 0 0 414.11,414.11 Z" fill="#C9B96F"/>
<path d="M425.93,416.45 A122,122 0 0 1 434.42,423.55 L431.18,427.09 A117.2,117.2 0 0 0 423.02,420.27 Z" fill="#C9B96F"/>
<path d="M435.82,424.86 A122,122 0 0 1 442.66,431.87 L439.10,435.08 A117.2,117.2 0 0 0 432.53,428.35 Z" fill="#C9B96F"/>
<path d="M445.05,434.59 A122,122 0 0 1 448.79,439.23 L444.98,442.15 A117.2,117.2 0 0 0 441.38,437.70 Z" fill="#C9B96F"/>
<path d="M450.70,441.79 A122,122 0 0 1 454.09,446.70 L450.07,449.33 A117.2,117.2 0 0 0 446.82,444.61 Z" fill="#C9B96F"/>
<path d="M456.02,449.76 A122,122 0 0 1 463.88,464.85 L459.48,466.77 A117.2,117.2 0 0 0 451.93,452.26 Z" fill="#C9B96F"/>
<path d="M465.12,467.80 A122,122 0 0 1 469.27,479.87 L464.66,481.20 A117.2,117.2 0 0 0 460.67,469.60 Z" fill="#C9B96F"/>
<path d="M470.27,483.57 A122,122 0 0 1 471.42,488.55 L466.72,489.53 A117.2,117.2 0 0 0 465.62,484.75 Z" fill="#C9B96F"/>
<path d="M471.96,491.27 A122,122 0 0 1 472.81,496.52 L468.06,497.19 A117.2,117.2 0 0 0 467.24,492.14 Z" fill="#C9B96F"/>
<path d="M473.12,498.84 A122,122 0 0 1 473.24,499.90 L468.47,500.44 A117.2,117.2 0 0 0 468.35,499.42 Z" fill="#C9B96F"/>
<path d="M473.40,501.38 A122,122 0 0 1 473.54,502.87 L468.75,503.29 A117.2,117.2 0 0 0 468.62,501.86 Z" fill="#C9B96F"/>
<path d="M473.70,504.99 A122,122 0 0 1 473.79,506.26 L468.99,506.55 A117.2,117.2 0 0 0 468.91,505.32 Z" fill="#C9B96F"/>
<path d="M473.89,508.39 A122,122 0 0 1 473.96,510.52 L469.17,510.64 A117.2,117.2 0 0 0 469.10,508.59 Z" fill="#C9B96F"/>
<path d="M474.00,513.07 A122,122 0 0 1 473.99,514.99 L469.19,514.93 A117.2,117.2 0 0 0 469.20,513.09 Z" fill="#A0F8D0"/>
<path d="M473.94,517.33 A122,122 0 0 1 473.62,523.07 L468.84,522.70 A117.2,117.2 0 0 0 469.14,517.18 Z" fill="#A0F8D0"/>
<path d="M473.33,526.25 A122,122 0 0 1 471.55,537.82 L466.85,536.87 A117.2,117.2 0 0 0 468.56,525.75 Z" fill="#A0F8D0"/>
<path d="M471.02,540.32 A122,122 0 0 1 470.11,544.05 L465.47,542.84 A117.2,117.2 0 0 0 466.33,539.27 Z" fill="#A0F8D0"/>
<path d="M469.62,545.90 A122,122 0 0 1 462.57,565.06 L458.22,563.03 A117.2,117.2 0 0 0 464.99,544.62 Z" fill="#A0F8D0"/>
<path d="M461.75,566.79 A122,122 0 0 1 459.72,570.78 L455.48,568.52 A117.2,117.2 0 0 0 457.43,564.69 Z" fill="#A0F8D0"/>
<path d="M459.11,571.90 A122,122 0 0 1 455.91,577.43 L451.82,574.91 A117.2,117.2 0 0 0 454.90,569.60 Z" fill="#A0F8D0"/>
<path d="M455.01,578.87 A122,122 0 0 1 453.85,580.66 L449.84,578.02 A117.2,117.2 0 0 0 450.96,576.30 Z" fill="#A0F8D0"/>
<path d="M453.14,581.72 A122,122 0 0 1 452.30,582.95 L448.36,580.22 A117.2,117.2 0 0 0 449.16,579.04 Z" fill="#A0F8D0"/>
<path d="M451.32,584.35 A122,122 0 0 1 446.41,590.77 L442.69,587.73 A117.2,117.2 0 0 0 447.41,581.56 Z" fill="#A0F8D0"/>
<path d="M445.73,591.59 A122,122 0 0 1 444.91,592.57 L441.25,589.46 A117.2,117.2 0 0 0 442.04,588.52 Z" fill="#A0F8D0"/>
<path d="M443.79,593.86 A122,122 0 0 1 434.26,603.59 L431.03,600.05 A117.2,117.2 0 0 0 440.18,590.70 Z" fill="#A0F8D0"/>
<path d="M432.84,604.87 A122,122 0 0 1 427.11,609.64 L424.16,605.85 A117.2,117.2 0 0 0 429.66,601.28 Z" fill="#A0F8D0"/>
<path d="M425.76,610.68 A122,122 0 0 1 420.93,614.16 L418.21,610.20 A117.2,117.2 0 0 0 422.86,606.85 Z" fill="#A0F8D0"/>
<path d="M417.01,616.74 A122,122 0 0 1 415.20,617.85 L412.71,613.75 A117.2,117.2 0 0 0 414.45,612.67 Z" fill="#A0F8D0"/>
<path d="M413.00,619.16 A122,122 0 0 1 398.29,626.38 L396.47,621.93 A117.2,117.2 0 0 0 410.60,615.00 Z" fill="#7F30CC"/>
<path d="M397.11,626.85 A122,122 0 0 1 395.12,627.62 L393.43,623.13 A117.2,117.2 0 0 0 395.33,622.39 Z" fill="#7F30CC"/>
<path d="M393.73,628.14 A122,122 0 0 1 391.72,628.85 L390.16,624.31 A117.2,117.2 0 0 0 392.08,623.63 Z" fill="#7F30CC"/>
<path d="M389.29,629.66 A122,122 0 0 1 381.51,631.88 L380.35,627.22 A117.2,117.2 0 0 0 387.83,625.09 Z" fill="#7F30CC"/>
<path d="M379.44,632.37 A122,122 0 0 1 376.11,633.09 L375.17,628.39 A117.2,117.2 0 0 0 378.36,627.70 Z" fill="#7F30CC"/>
<path d="M374.65,633.38 A122,122 0 0 1 368.98,634.31 L368.31,629.56 A117.2,117.2 0 0 0 373.76,628.66 Z" fill="#7F30CC"/>
<path d="M366.23,634.67 A122,122 0 0 1 360.51,635.20 L360.18,630.41 A117.2,117.2 0 0 0 365.67,629.90 Z" fill="#7F30CC"/>
<path d="M357.96,635.35 A122,122 0 0 1 352.85,635.50 L352.82,630.70 A117.2,117.2 0 0 0 357.73,630.56 Z" fill="#7F30CC"/>
<path d="M349.87,635.48 A122,122 0 0 1 348.59,635.45 L348.73,630.65 A117.2,117.2 0 0 0 349.95,630.68 Z" fill="#7F30CC"/>
<path d="M346.68,635.38 A122,122 0 0 1 342.00,635.09 L342.40,630.31 A117.2,117.2 0 0 0 346.89,630.59 Z" fill="#7F30CC"/>
<path d="M341.15,635.02 A122,122 0 0 1 335.02,634.31 L335.69,629.56 A117.2,117.2 0 0 0 341.58,630.24 Z" fill="#7F30CC"/>
<path d="M333.97,634.16 A122,122 0 0 1 327.26,632.97 L328.23,628.26 A117.2,117.2 0 0 0 334.68,629.41 Z" fill="#7F30CC"/>
<path d="M325.59,632.61 A122,122 0 0 1 318.37,630.77 L319.70,626.16 A117.2,117.2 0 0 0 326.63,627.92 Z" fill="#7F30CC"/>
<path d="M317.15,630.42 A122,122 0 0 1 315.52,629.92 L316.95,625.34 A117.2,117.2 0 0 0 318.52,625.82 Z" fill="#7F30CC"/>
<path d="M313.49,629.26 A122,122 0 0 1 304.53,625.88 L306.39,621.46 A117.2,117.2 0 0 0 315.01,624.71 Z" fill="#7F30CC"/>
<path d="M302.77,625.13 A122,122 0 0 1 294.72,621.22 L296.98,616.98 A117.2,117.2 0 0 0 304.70,620.73 Z" fill="#7F30CC"/>
<path d="M292.85,620.20 A122,122 0 0 1 287.89,617.30 L290.41,613.22 A117.2,117.2 0 0 0 295.18,616.01 Z" fill="#7F30CC"/>
<path d="M286.63,616.51 A122,122 0 0 1 283.78,614.64 L286.46,610.66 A117.2,117.2 0 0 0 289.20,612.46 Z" fill="#7F30CC"/>
<path d="M282.72,613.92 A122,122 0 0 1 279.95,611.95 L282.78,608.08 A117.2,117.2 0 0 0 285.45,609.97 Z" fill="#7F30CC"/>
<path d="M278.58,610.93 A122,122 0 0 1 271.48,605.15 L274.65,601.55 A117.2,117.2 0 0 0 281.47,607.10 Z" fill="#7F30CC"/>
<path d="M269.58,603.45 A122,122 0 0 1 262.77,596.70 L266.29,593.43 A117.2,117.2 0 0 0 272.82,599.91 Z" fill="#7F30CC"/>
<path d="M261.62,595.45 A122,122 0 0 1 246.88,575.42 L251.02,572.98 A117.2,117.2 0 0 0 265.18,592.23 Z" fill="#7F30CC"/>
<path d="M245.82,573.58 A122,122 0 0 1 243.30,568.89 L247.57,566.71 A117.2,117.2 0 0 0 249.99,571.21 Z" fill="#7F30CC"/>
<path d="M242.35,566.98 A122,122 0 0 1 235.65,550.19 L240.22,548.74 A117.2,117.2 0 0 0 246.66,564.88 Z" fill="#7F30CC"/>
<path d="M234.84,547.54 A122,122 0 0 1 233.22,541.36 L237.90,540.26 A117.2,117.2 0 0 0 239.45,546.20 Z" fill="#7F30CC"/>
<path d="M232.67,538.87 A122,122 0 0 1 230.78,527.31 L235.55,526.77 A117.2,117.2 0 0 0 237.36,537.87 Z" fill="#7F30CC"/>
<path d="M230.54,524.98 A122,122 0 0 1 230.13,519.03 L234.92,518.82 A117.2,117.2 0 0 0 235.32,524.53 Z" fill="#7F30CC"/>
<path d="M230.05,517.12 A122,122 0 0 1 230.00,513.50 L234.80,513.50 A117.2,117.2 0 0 0 234.85,516.98 Z" fill="#7F30CC"/>
<path d="M230.01,512.01 A122,122 0 0 1 231.07,497.36 L235.83,498.00 A117.2,117.2 0 0 0 234.81,512.07 Z" fill="#C9B96F"/>
<path d="M231.34,495.47 A122,122 0 0 1 233.42,484.81 L238.09,485.94 A117.2,117.2 0 0 0 236.09,496.18 Z" fill="#C9B96F"/>
<path d="M233.94,482.75 A122,122 0 0 1 234.38,481.10 L239.01,482.38 A117.2,117.2 0 0 0 238.58,483.96 Z" fill="#C9B96F"/>
<path d="M235.33,477.83 A122,122 0 0 1 237.80,470.58 L242.29,472.26 A117.2,117.2 0 0 0 239.92,479.23 Z" fill="#C9B96F"/>
<path d="M238.49,468.79 A122,122 0 0 1 241.43,461.94 L245.78,463.97 A117.2,117.2 0 0 0 242.96,470.55 Z" fill="#C9B96F"/>
<path d="M242.35,460.02 A122,122 0 0 1 245.92,453.24 L250.10,455.61 A117.2,117.2 0 0 0 246.66,462.12 Z" fill="#C9B96F"/>
<path d="M246.99,451.40 A122,122 0 0 1 248.76,448.49 L252.83,451.05 A117.2,117.2 0 0 0 251.12,453.84 Z" fill="#C9B96F"/>
<path d="M249.11,447.95 A122,122 0 0 1 253.55,441.45 L257.42,444.28 A117.2,117.2 0 0 0 253.15,450.53 Z" fill="#C9B96F"/>
<path d="M254.18,440.59 A122,122 0 0 1 258.00,435.73 L261.70,438.79 A117.2,117.2 0 0 0 258.03,443.46 Z" fill="#C9B96F"/>
<path d="M258.82,434.75 A122,122 0 0 1 262.48,430.61 L266.01,433.87 A117.2,117.2 0 0 0 262.48,437.85 Z" fill="#C9B96F"/>
<path d="M263.07,429.99 A122,122 0 0 1 268.18,424.86 L271.47,428.35 A117.2,117.2 0 0 0 266.56,433.27 Z" fill="#C9B96F"/>
<path d="M269.11,423.98 A122,122 0 0 1 272.28,421.15 L275.42,424.78 A117.2,117.2 0 0 0 272.37,427.51 Z" fill="#C9B96F"/>
<path d="M273.25,420.32 A122,122 0 0 1 276.89,417.36 L279.84,421.15 A117.2,117.2 0 0 0 276.35,423.98 Z" fill="#C9B96F"/>
<path d="M279.43,415.43 A122,122 0 0 1 284.31,412.00 L286.97,415.99 A117.2,117.2 0 0 0 282.29,419.29 Z" fill="#C9B96F"/>
<path d="M286.45,410.61 A122,122 0 0 1 291.92,407.32 L294.29,411.49 A117.2,117.2 0 0 0 289.03,414.65 Z" fill="#C9B96F"/>
<path d="M293.23,406.59 A122,122 0 0 1 298.71,403.75 L300.81,408.07 A117.2,117.2 0 0 0 295.54,410.80 Z" fill="#C9B96F"/>
<path d="M299.86,403.20 A122,122 0 0 1 308.08,399.68 L309.81,404.16 A117.2,117.2 0 0 0 301.91,407.54 Z" fill="#C9B96F"/>
<path d="M309.47,399.15 A122,122 0 0 1 315.31,397.15 L316.76,401.72 A117.2,117.2 0 0 0 311.15,403.65 Z" fill="#C9B96F"/>
<path d="M317.55,396.46 A122,122 0 0 1 323.73,394.82 L324.84,399.49 A117.2,117.2 0 0 0 318.91,401.07 Z" fill="#C9B96F"/>
<path d="M326.22,394.26 A122,122 0 0 1 338.40,392.26 L338.94,397.03 A117.2,117.2 0 0 0 327.23,398.95 Z" fill="#C9B96F"/>
<path d="M340.94,392.00 A122,122 0 0 1 344.13,391.75 L344.44,396.54 A117.2,117.2 0 0 0 341.38,396.78 Z" fill="#C9B96F"/>
<path d="M347.96,391.57 A122,122 0 0 1 351.79,391.50 L351.80,396.30 A117.2,117.2 0 0 0 348.11,396.36 Z" fill="#C9B96F"/>
<text transform="translate(357.62,387.33) rotate(-87.45) scale(0.86,1)" text-anchor="start" dominant-baseline="central" dy="1.5" font-size="7.4" fill="#111" stroke="#111" stroke-width="0.18">TGFBR2</text>
<text transform="translate(365.97,387.97) rotate(-83.65) scale(0.86,1)" text-anchor="start" dominant-baseline="central" dy="1.5" font-size="7.4" fill="#111" stroke="#111" stroke-width="0.18">PTGDR2</text>
<text transform="translate(375.45,389.40) rotate(-79.30) scale(0.86,1)" text-anchor="start" dominant-baseline="central" dy="1.5" font-size="7.4" fill="#111" stroke="#111" stroke-width="0.18">CD80</text>
<text transform="translate(385.22,391.65) rotate(-74.75) scale(0.86,1)" text-anchor="start" dominant-baseline="central" dy="1.5" font-size="7.4" fill="#111" stroke="#111" stroke-width="0.18">PDCD1</text>
<text transform="translate(396.54,395.31) rotate(-69.35) scale(0.86,1)" text-anchor="start" dominant-baseline="central" dy="1.5" font-size="7.4" fill="#111" stroke="#111" stroke-width="0.18">CD40LG</text>
<text transform="translate(404.58,398.66) rotate(-65.40) scale(0.86,1)" text-anchor="start" dominant-baseline="central" dy="1.5" font-size="7.4" fill="#111" stroke="#111" stroke-width="0.18">NPR2</text>
<text transform="translate(413.42,403.14) rotate(-60.90) scale(0.86,1)" text-anchor="start" dominant-baseline="central" dy="1.5" font-size="7.4" fill="#111" stroke="#111" stroke-width="0.18">TNFRSF13B</text>
<text transform="translate(422.63,408.79) rotate(-56.00) scale(0.86,1)" text-anchor="start" dominant-baseline="central" dy="1.5" font-size="7.4" fill="#111" stroke="#111" stroke-width="0.18">TNFRSF13C</text>
<text transform="translate(433.02,416.61) rotate(-50.10) scale(0.86,1)" text-anchor="start" dominant-baseline="central" dy="1.5" font-size="7.4" fill="#111" stroke="#111" stroke-width="0.18">TNFRSF17</text>
<text transform="translate(442.39,425.29) rotate(-44.30) scale(0.86,1)" text-anchor="start" dominant-baseline="central" dy="1.5" font-size="7.4" fill="#111" stroke="#111" stroke-width="0.18">IL11RA</text>
<text transform="translate(450.29,434.19) rotate(-38.90) scale(0.86,1)" text-anchor="start" dominant-baseline="central" dy="1.5" font-size="7.4" fill="#111" stroke="#111" stroke-width="0.18">IL15RA</text>
<text transform="translate(455.96,441.78) rotate(-34.60) scale(0.86,1)" text-anchor="start" dominant-baseline="central" dy="1.5" font-size="7.4" fill="#111" stroke="#111" stroke-width="0.18">IL2RB</text>
<text transform="translate(464.03,455.18) rotate(-27.50) scale(0.86,1)" text-anchor="start" dominant-baseline="central" dy="1.5" font-size="7.4" fill="#111" stroke="#111" stroke-width="0.18">IL2RG</text>
<text transform="translate(471.42,472.38) rotate(-19.00) scale(0.86,1)" text-anchor="start" dominant-baseline="central" dy="1.5" font-size="7.4" fill="#111" stroke="#111" stroke-width="0.18">IL6ST</text>
<text transform="translate(475.06,485.09) rotate(-13.00) scale(0.86,1)" text-anchor="start" dominant-baseline="central" dy="1.5" font-size="7.4" fill="#111" stroke="#111" stroke-width="0.18">TIGIT</text>
<text transform="translate(476.66,493.20) rotate(-9.25) scale(0.86,1)" text-anchor="start" dominant-baseline="central" dy="1.5" font-size="7.4" fill="#111" stroke="#111" stroke-width="0.18">PLXNB1</text>
<text transform="translate(477.45,498.87) rotate(-6.65) scale(0.86,1)" text-anchor="start" dominant-baseline="central" dy="1.5" font-size="7.4" fill="#111" stroke="#111" stroke-width="0.18">PLXNB2</text>
<text transform="translate(477.96,504.25) rotate(-4.20) scale(0.86,1)" text-anchor="start" dominant-baseline="central" dy="1.5" font-size="7.4" fill="#111" stroke="#111" stroke-width="0.18">TNFRSF10D</text>
<text transform="translate(478.12,506.67) rotate(-3.10) scale(0.86,1)" text-anchor="start" dominant-baseline="central" dy="1.5" font-size="7.4" fill="#111" stroke="#111" stroke-width="0.18">ROR2</text>
<text transform="translate(478.23,509.31) rotate(-1.90) scale(0.86,1)" text-anchor="start" dominant-baseline="central" dy="1.5" font-size="7.4" fill="#111" stroke="#111" stroke-width="0.18">RYK</text>
<text transform="translate(478.30,514.05) rotate(0.25) scale(0.86,1)" text-anchor="start" dominant-baseline="central" dy="1.5" font-size="7.4" fill="#111" stroke="#111" stroke-width="0.18">PTGS2</text>
<text transform="translate(478.11,520.44) rotate(3.15) scale(0.86,1)" text-anchor="start" dominant-baseline="central" dy="1.5" font-size="7.4" fill="#111" stroke="#111" stroke-width="0.18">WNT5A</text>
<text transform="translate(476.83,532.71) rotate(8.75) scale(0.86,1)" text-anchor="start" dominant-baseline="central" dy="1.5" font-size="7.4" fill="#111" stroke="#111" stroke-width="0.18">IL11</text>
<text transform="translate(474.76,543.20) rotate(13.60) scale(0.86,1)" text-anchor="start" dominant-baseline="central" dy="1.5" font-size="7.4" fill="#111" stroke="#111" stroke-width="0.18">MMP13</text>
<text transform="translate(470.53,557.11) rotate(20.20) scale(0.86,1)" text-anchor="start" dominant-baseline="central" dy="1.5" font-size="7.4" fill="#111" stroke="#111" stroke-width="0.18">BMP2</text>
<text transform="translate(464.58,570.74) rotate(26.95) scale(0.86,1)" text-anchor="start" dominant-baseline="central" dy="1.5" font-size="7.4" fill="#111" stroke="#111" stroke-width="0.18">CXCL3</text>
<text transform="translate(461.27,576.84) rotate(30.10) scale(0.86,1)" text-anchor="start" dominant-baseline="central" dy="1.5" font-size="7.4" fill="#111" stroke="#111" stroke-width="0.18">CXCL6</text>
<text transform="translate(458.40,581.55) rotate(32.60) scale(0.86,1)" text-anchor="start" dominant-baseline="central" dy="1.5" font-size="7.4" fill="#111" stroke="#111" stroke-width="0.18">CXCL1</text>
<text transform="translate(455.21,586.30) rotate(35.20) scale(0.86,1)" text-anchor="start" dominant-baseline="central" dy="1.5" font-size="7.4" fill="#111" stroke="#111" stroke-width="0.18">CXCL5</text>
<text transform="translate(451.66,591.08) rotate(37.90) scale(0.86,1)" text-anchor="start" dominant-baseline="central" dy="1.5" font-size="7.4" fill="#111" stroke="#111" stroke-width="0.18">CXCL8</text>
<text transform="translate(448.33,595.19) rotate(40.30) scale(0.86,1)" text-anchor="start" dominant-baseline="central" dy="1.5" font-size="7.4" fill="#111" stroke="#111" stroke-width="0.18">TFPI</text>
<text transform="translate(442.24,601.87) rotate(44.40) scale(0.86,1)" text-anchor="start" dominant-baseline="central" dy="1.5" font-size="7.4" fill="#111" stroke="#111" stroke-width="0.18">CD40</text>
<text transform="translate(432.76,610.60) rotate(50.25) scale(0.86,1)" text-anchor="start" dominant-baseline="central" dy="1.5" font-size="7.4" fill="#111" stroke="#111" stroke-width="0.18">IL7</text>
<text transform="translate(425.88,615.94) rotate(54.20) scale(0.86,1)" text-anchor="start" dominant-baseline="central" dy="1.5" font-size="7.4" fill="#111" stroke="#111" stroke-width="0.18">ICAM1</text>
<text transform="translate(418.37,620.96) rotate(58.30) scale(0.86,1)" text-anchor="start" dominant-baseline="central" dy="1.5" font-size="7.4" fill="#111" stroke="#111" stroke-width="0.18">CFH</text>
<text transform="translate(407.66,626.87) rotate(63.85) scale(0.86,1)" text-anchor="start" dominant-baseline="central" dy="1.5" font-size="7.4" fill="#111" stroke="#111" stroke-width="0.18">TNFSF10</text>
<text transform="translate(397.67,631.25) rotate(68.80) scale(0.86,1)" text-anchor="start" dominant-baseline="central" dy="1.5" font-size="7.4" fill="#111" stroke="#111" stroke-width="0.18">PSAP</text>
<text transform="translate(394.16,632.56) rotate(70.50) scale(0.86,1)" text-anchor="start" dominant-baseline="central" dy="1.5" font-size="7.4" fill="#111" stroke="#111" stroke-width="0.18">CD34</text>
<text transform="translate(386.60,634.97) rotate(74.10) scale(0.86,1)" text-anchor="start" dominant-baseline="central" dy="1.5" font-size="7.4" fill="#111" stroke="#111" stroke-width="0.18">ADAM17</text>
<text transform="translate(378.69,636.95) rotate(77.80) scale(0.86,1)" text-anchor="start" dominant-baseline="central" dy="1.5" font-size="7.4" fill="#111" stroke="#111" stroke-width="0.18">CXCL2</text>
<text transform="translate(372.52,638.12) rotate(80.65) scale(0.86,1)" text-anchor="start" dominant-baseline="central" dy="1.5" font-size="7.4" fill="#111" stroke="#111" stroke-width="0.18">SEMA4D</text>
<text transform="translate(363.78,639.25) rotate(84.65) scale(0.86,1)" text-anchor="start" dominant-baseline="central" dy="1.5" font-size="7.4" fill="#111" stroke="#111" stroke-width="0.18">TNC</text>
<text transform="translate(356.41,639.72) rotate(88.00) scale(0.86,1)" text-anchor="start" dominant-baseline="central" dy="1.5" font-size="7.4" fill="#111" stroke="#111" stroke-width="0.18">BMP6</text>
<text transform="translate(349.08,642.37) rotate(271.30) scale(0.86,1)" text-anchor="end" dominant-baseline="central" dy="1.5" font-size="7.4" fill="#111" stroke="#111" stroke-width="0.18">ADAM9</text>
<text transform="translate(343.91,642.15) rotate(273.60) scale(0.86,1)" text-anchor="end" dominant-baseline="central" dy="1.5" font-size="7.4" fill="#111" stroke="#111" stroke-width="0.18">IBSP</text>
<text transform="translate(337.30,641.56) rotate(276.55) scale(0.86,1)" text-anchor="end" dominant-baseline="central" dy="1.5" font-size="7.4" fill="#111" stroke="#111" stroke-width="0.18">PDCD1LG2</text>
<text transform="translate(329.40,640.40) rotate(280.10) scale(0.86,1)" text-anchor="end" dominant-baseline="central" dy="1.5" font-size="7.4" fill="#111" stroke="#111" stroke-width="0.18">NECTIN2</text>
<text transform="translate(320.27,638.43) rotate(284.25) scale(0.86,1)" text-anchor="end" dominant-baseline="central" dy="1.5" font-size="7.4" fill="#111" stroke="#111" stroke-width="0.18">CD274</text>
<text transform="translate(314.31,636.77) rotate(287.00) scale(0.86,1)" text-anchor="end" dominant-baseline="central" dy="1.5" font-size="7.4" fill="#111" stroke="#111" stroke-width="0.18">NGF</text>
<text transform="translate(306.54,634.12) rotate(290.65) scale(0.86,1)" text-anchor="end" dominant-baseline="central" dy="1.5" font-size="7.4" fill="#111" stroke="#111" stroke-width="0.18">LIF</text>
<text transform="translate(295.70,629.45) rotate(295.90) scale(0.86,1)" text-anchor="end" dominant-baseline="central" dy="1.5" font-size="7.4" fill="#111" stroke="#111" stroke-width="0.18">C3</text>
<text transform="translate(286.87,624.73) rotate(300.35) scale(0.86,1)" text-anchor="end" dominant-baseline="central" dy="1.5" font-size="7.4" fill="#111" stroke="#111" stroke-width="0.18">NPPB</text>
<text transform="translate(281.42,621.36) rotate(303.20) scale(0.86,1)" text-anchor="end" dominant-baseline="central" dy="1.5" font-size="7.4" fill="#111" stroke="#111" stroke-width="0.18">VEGFC</text>
<text transform="translate(277.33,618.57) rotate(305.40) scale(0.86,1)" text-anchor="end" dominant-baseline="central" dy="1.5" font-size="7.4" fill="#111" stroke="#111" stroke-width="0.18">JAM2</text>
<text transform="translate(270.62,613.46) rotate(309.15) scale(0.86,1)" text-anchor="end" dominant-baseline="central" dy="1.5" font-size="7.4" fill="#111" stroke="#111" stroke-width="0.18">VCAM1</text>
<text transform="translate(261.25,605.04) rotate(314.75) scale(0.86,1)" text-anchor="end" dominant-baseline="central" dy="1.5" font-size="7.4" fill="#111" stroke="#111" stroke-width="0.18">AGRN</text>
<text transform="translate(248.18,589.90) rotate(323.65) scale(0.86,1)" text-anchor="end" dominant-baseline="central" dy="1.5" font-size="7.4" fill="#111" stroke="#111" stroke-width="0.18">TNFSF13B</text>
<text transform="translate(238.45,574.51) rotate(331.75) scale(0.86,1)" text-anchor="end" dominant-baseline="central" dy="1.5" font-size="7.4" fill="#111" stroke="#111" stroke-width="0.18">FGF2</text>
<text transform="translate(232.28,561.26) rotate(338.25) scale(0.86,1)" text-anchor="end" dominant-baseline="central" dy="1.5" font-size="7.4" fill="#111" stroke="#111" stroke-width="0.18">IL15</text>
<text transform="translate(227.32,546.21) rotate(345.30) scale(0.86,1)" text-anchor="end" dominant-baseline="central" dy="1.5" font-size="7.4" fill="#111" stroke="#111" stroke-width="0.18">TGFB2</text>
<text transform="translate(224.78,534.22) rotate(350.75) scale(0.86,1)" text-anchor="end" dominant-baseline="central" dy="1.5" font-size="7.4" fill="#111" stroke="#111" stroke-width="0.18">IL6</text>
<text transform="translate(223.41,522.49) rotate(356.00) scale(0.86,1)" text-anchor="end" dominant-baseline="central" dy="1.5" font-size="7.4" fill="#111" stroke="#111" stroke-width="0.18">LAMC2</text>
<text transform="translate(223.11,515.41) rotate(359.15) scale(0.86,1)" text-anchor="end" dominant-baseline="central" dy="1.5" font-size="7.4" fill="#111" stroke="#111" stroke-width="0.18">SLIT2</text>
<text transform="translate(227.73,504.48) rotate(364.15) scale(0.86,1)" text-anchor="end" dominant-baseline="central" dy="1.5" font-size="7.4" fill="#111" stroke="#111" stroke-width="0.18">ITGB1</text>
<text transform="translate(229.71,489.62) rotate(371.05) scale(0.86,1)" text-anchor="end" dominant-baseline="central" dy="1.5" font-size="7.4" fill="#111" stroke="#111" stroke-width="0.18">SELL</text>
<text transform="translate(231.65,481.25) rotate(375.00) scale(0.86,1)" text-anchor="end" dominant-baseline="central" dy="1.5" font-size="7.4" fill="#111" stroke="#111" stroke-width="0.18">SORT1</text>
<text transform="translate(234.05,473.35) rotate(378.80) scale(0.86,1)" text-anchor="end" dominant-baseline="central" dy="1.5" font-size="7.4" fill="#111" stroke="#111" stroke-width="0.18">TNFRSF10A</text>
<text transform="translate(237.52,464.31) rotate(383.25) scale(0.86,1)" text-anchor="end" dominant-baseline="central" dy="1.5" font-size="7.4" fill="#111" stroke="#111" stroke-width="0.18">TNFRSF10B</text>
<text transform="translate(241.78,455.39) rotate(387.80) scale(0.86,1)" text-anchor="end" dominant-baseline="central" dy="1.5" font-size="7.4" fill="#111" stroke="#111" stroke-width="0.18">ITGAV</text>
<text transform="translate(245.65,448.58) rotate(391.40) scale(0.86,1)" text-anchor="end" dominant-baseline="central" dy="1.5" font-size="7.4" fill="#111" stroke="#111" stroke-width="0.18">ITGB5</text>
<text transform="translate(249.13,443.19) rotate(394.35) scale(0.86,1)" text-anchor="end" dominant-baseline="central" dy="1.5" font-size="7.4" fill="#111" stroke="#111" stroke-width="0.18">DAG1</text>
<text transform="translate(254.02,436.53) rotate(398.15) scale(0.86,1)" text-anchor="end" dominant-baseline="central" dy="1.5" font-size="7.4" fill="#111" stroke="#111" stroke-width="0.18">GPC1</text>
<text transform="translate(258.68,430.94) rotate(401.50) scale(0.86,1)" text-anchor="end" dominant-baseline="central" dy="1.5" font-size="7.4" fill="#111" stroke="#111" stroke-width="0.18">ITGAL</text>
<text transform="translate(263.74,425.55) rotate(404.90) scale(0.86,1)" text-anchor="end" dominant-baseline="central" dy="1.5" font-size="7.4" fill="#111" stroke="#111" stroke-width="0.18">ITGB2</text>
<text transform="translate(268.95,420.61) rotate(408.20) scale(0.86,1)" text-anchor="end" dominant-baseline="central" dy="1.5" font-size="7.4" fill="#111" stroke="#111" stroke-width="0.18">ITGB4</text>
<text transform="translate(273.42,416.80) rotate(410.90) scale(0.86,1)" text-anchor="end" dominant-baseline="central" dy="1.5" font-size="7.4" fill="#111" stroke="#111" stroke-width="0.18">ITGB7</text>
<text transform="translate(280.35,411.56) rotate(414.90) scale(0.86,1)" text-anchor="end" dominant-baseline="central" dy="1.5" font-size="7.4" fill="#111" stroke="#111" stroke-width="0.18">LRP1</text>
<text transform="translate(287.83,406.70) rotate(419.00) scale(0.86,1)" text-anchor="end" dominant-baseline="central" dy="1.5" font-size="7.4" fill="#111" stroke="#111" stroke-width="0.18">SDC4</text>
<text transform="translate(294.76,402.83) rotate(422.65) scale(0.86,1)" text-anchor="end" dominant-baseline="central" dy="1.5" font-size="7.4" fill="#111" stroke="#111" stroke-width="0.18">ACVR1</text>
<text transform="translate(302.91,398.98) rotate(426.80) scale(0.86,1)" text-anchor="end" dominant-baseline="central" dy="1.5" font-size="7.4" fill="#111" stroke="#111" stroke-width="0.18">ACVR2B</text>
<text transform="translate(311.54,395.65) rotate(431.05) scale(0.86,1)" text-anchor="end" dominant-baseline="central" dy="1.5" font-size="7.4" fill="#111" stroke="#111" stroke-width="0.18">BMPR1A</text>
<text transform="translate(319.96,393.09) rotate(435.10) scale(0.86,1)" text-anchor="end" dominant-baseline="central" dy="1.5" font-size="7.4" fill="#111" stroke="#111" stroke-width="0.18">BMPR2</text>
<text transform="translate(331.86,390.54) rotate(440.70) scale(0.86,1)" text-anchor="end" dominant-baseline="central" dy="1.5" font-size="7.4" fill="#111" stroke="#111" stroke-width="0.18">CXCR1</text>
<text transform="translate(342.33,389.28) rotate(445.55) scale(0.86,1)" text-anchor="end" dominant-baseline="central" dy="1.5" font-size="7.4" fill="#111" stroke="#111" stroke-width="0.18">FZD6</text>
<text transform="translate(349.83,388.92) rotate(449.00) scale(0.86,1)" text-anchor="end" dominant-baseline="central" dy="1.5" font-size="7.4" fill="#111" stroke="#111" stroke-width="0.18">FZD7</text>
<rect x="0.5" y="0.5" width="519" height="684" fill="none" stroke="#000" stroke-width="1.2"/>
</svg>
</body></html>
